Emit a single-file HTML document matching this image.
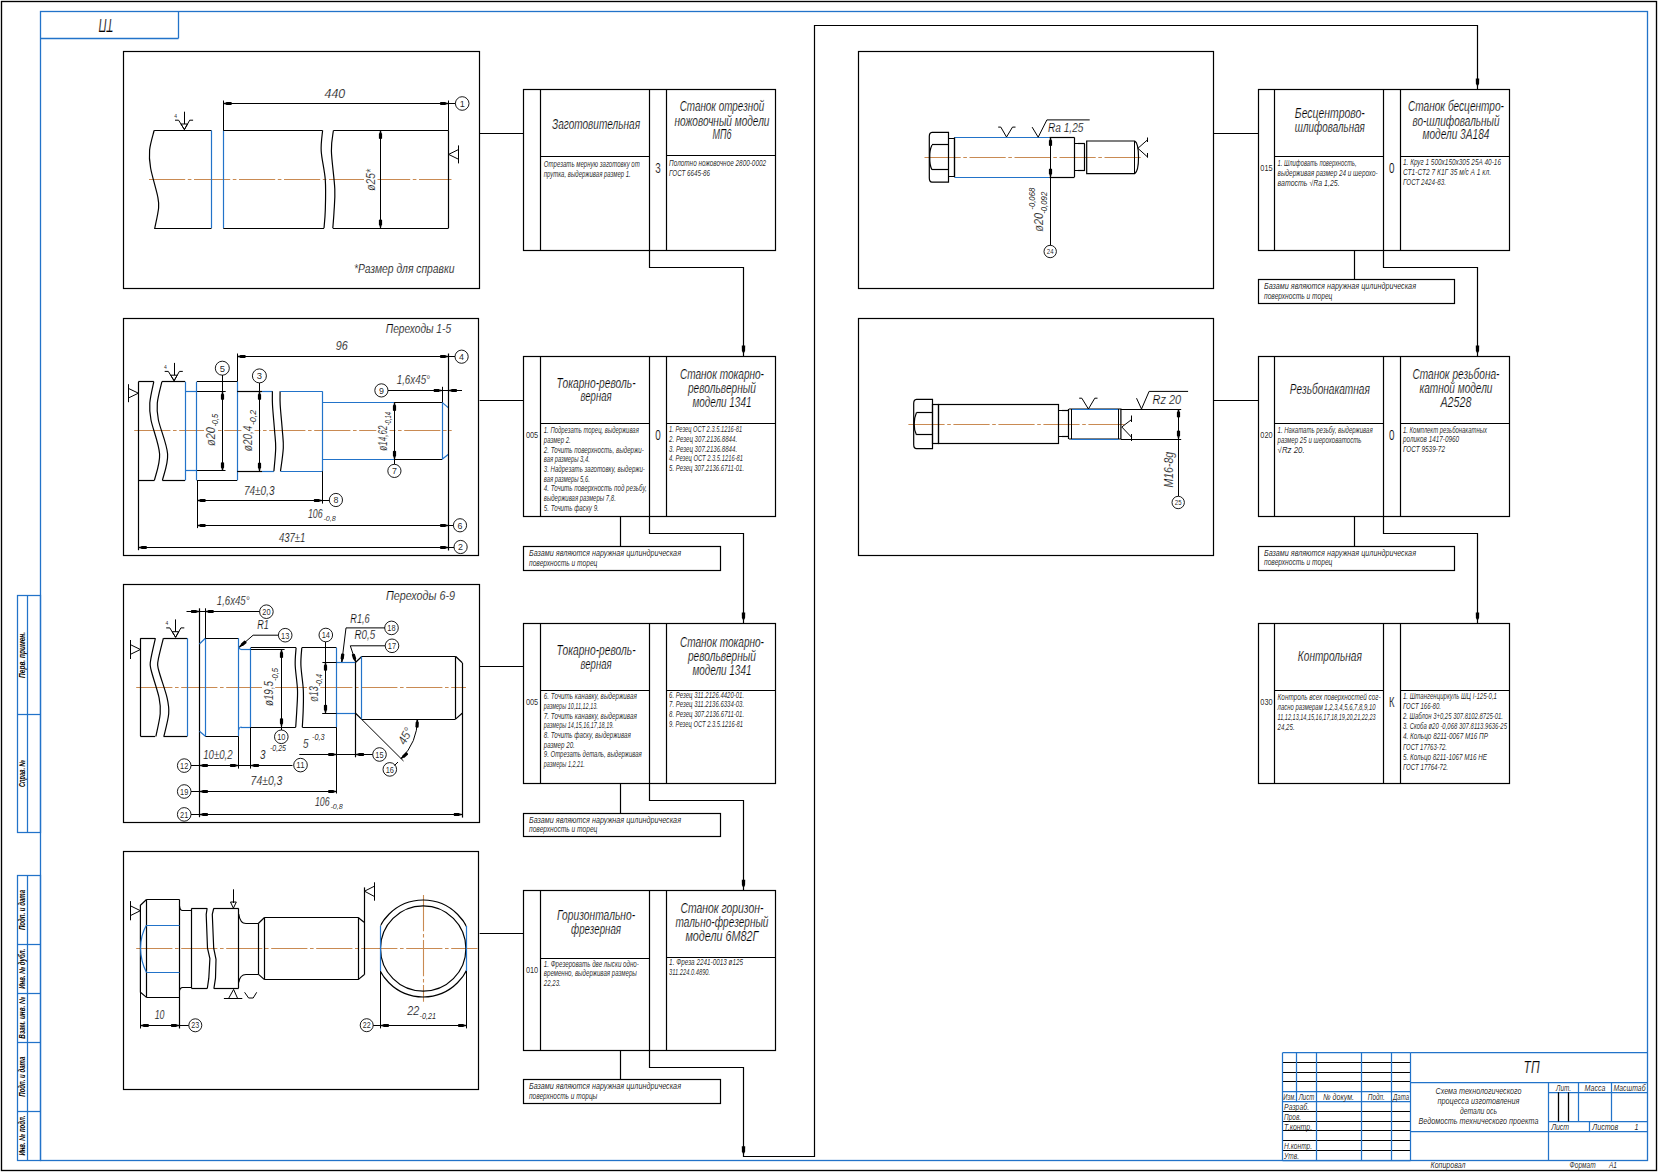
<!DOCTYPE html>
<html><head><meta charset="utf-8"><style>
html,body{margin:0;padding:0;background:#fff;width:1658px;height:1172px;overflow:hidden}
svg{display:block}
text{font-family:"Liberation Sans", sans-serif}
</style></head><body>
<svg width="1658" height="1172" viewBox="0 0 1658 1172">
<rect x="0" y="0" width="1658" height="1172" fill="#fff"/>
<rect x="1.5" y="1.5" width="1655" height="1169" fill="none" stroke="#000" stroke-width="1.35"/>
<rect x="40.5" y="11.5" width="1607" height="1149" fill="none" stroke="#2273c9" stroke-width="1.3"/>
<line x1="178.5" y1="11.5" x2="178.5" y2="38.4" stroke="#2273c9" stroke-width="1.3"/>
<line x1="40.4" y1="38.5" x2="178.5" y2="38.5" stroke="#2273c9" stroke-width="1.3"/>
<text x="106.2" y="19" font-size="18" font-style="italic" text-anchor="middle" textLength="14.5" lengthAdjust="spacingAndGlyphs" transform="rotate(180 106.2 19)" fill="#000" stroke="#fff" stroke-width="0.2">ТП</text>
<rect x="123.5" y="51.5" width="356" height="237" fill="none" stroke="#000" stroke-width="1.2"/>
<rect x="123.5" y="318.5" width="355" height="237" fill="none" stroke="#000" stroke-width="1.2"/>
<rect x="123.5" y="584.5" width="356" height="238" fill="none" stroke="#000" stroke-width="1.2"/>
<rect x="123.5" y="851.5" width="355" height="238" fill="none" stroke="#000" stroke-width="1.2"/>
<rect x="858.5" y="51.5" width="355" height="237" fill="none" stroke="#000" stroke-width="1.2"/>
<rect x="858.5" y="318.5" width="355" height="237" fill="none" stroke="#000" stroke-width="1.2"/>
<rect x="523.5" y="89.5" width="252" height="161" fill="none" stroke="#000" stroke-width="1.2"/>
<line x1="540.5" y1="89.1" x2="540.5" y2="250.3" stroke="#000" stroke-width="1.2"/>
<line x1="649.5" y1="89.1" x2="649.5" y2="250.3" stroke="#000" stroke-width="1.2"/>
<line x1="666.5" y1="89.1" x2="666.5" y2="250.3" stroke="#000" stroke-width="1.2"/>
<line x1="540.6" y1="156.5" x2="649.5" y2="156.5" stroke="#000" stroke-width="1.2"/>
<line x1="666.5" y1="155.5" x2="775.4" y2="155.5" stroke="#000" stroke-width="1.2"/>
<text x="532.05" y="171.1" font-size="9.8" font-style="normal" text-anchor="middle" fill="#000" fill-opacity="0.88"></text>
<text x="658" y="172.6" font-size="14.5" font-style="normal" text-anchor="middle" textLength="5.5" lengthAdjust="spacingAndGlyphs" fill="#000" stroke="#fff" stroke-width="0.2">3</text>
<text x="596.05" y="129.1" font-size="14" font-style="italic" text-anchor="middle" textLength="88" lengthAdjust="spacingAndGlyphs" fill="#000" stroke="#fff" stroke-width="0.2">Заготовительная</text>
<text x="721.95" y="111.4" font-size="14" font-style="italic" text-anchor="middle" textLength="84.5" lengthAdjust="spacingAndGlyphs" fill="#000" stroke="#fff" stroke-width="0.2">Станок отрезной</text>
<text x="721.95" y="125.6" font-size="14" font-style="italic" text-anchor="middle" textLength="95" lengthAdjust="spacingAndGlyphs" fill="#000" stroke="#fff" stroke-width="0.2">ножовочный модели</text>
<text x="721.95" y="139.3" font-size="14" font-style="italic" text-anchor="middle" textLength="19" lengthAdjust="spacingAndGlyphs" fill="#000" stroke="#fff" stroke-width="0.2">МП6</text>
<text x="543.8" y="167" font-size="8.4" font-style="italic" text-anchor="start" textLength="96" lengthAdjust="spacingAndGlyphs" fill="#000" fill-opacity="0.88">Отрезать мерную заготовку от</text>
<text x="543.8" y="176.7" font-size="8.4" font-style="italic" text-anchor="start" textLength="87" lengthAdjust="spacingAndGlyphs" fill="#000" fill-opacity="0.88">прутка, выдерживая размер 1.</text>
<text x="669.1" y="165.9" font-size="8.4" font-style="italic" text-anchor="start" textLength="97" lengthAdjust="spacingAndGlyphs" fill="#000" fill-opacity="0.88">Полотно ножовочное 2800-0002</text>
<text x="669.1" y="175.6" font-size="8.4" font-style="italic" text-anchor="start" textLength="41" lengthAdjust="spacingAndGlyphs" fill="#000" fill-opacity="0.88">ГОСТ 6645-86</text>
<rect x="523.5" y="356.5" width="252" height="160" fill="none" stroke="#000" stroke-width="1.2"/>
<line x1="540.5" y1="356.4" x2="540.5" y2="516.1" stroke="#000" stroke-width="1.2"/>
<line x1="649.5" y1="356.4" x2="649.5" y2="516.1" stroke="#000" stroke-width="1.2"/>
<line x1="666.5" y1="356.4" x2="666.5" y2="516.1" stroke="#000" stroke-width="1.2"/>
<line x1="540.6" y1="423.5" x2="649.5" y2="423.5" stroke="#000" stroke-width="1.2"/>
<line x1="666.5" y1="423.5" x2="775.4" y2="423.5" stroke="#000" stroke-width="1.2"/>
<text x="532.05" y="438.4" font-size="9.8" font-style="normal" text-anchor="middle" textLength="12.3" lengthAdjust="spacingAndGlyphs" fill="#000" fill-opacity="0.88">005</text>
<text x="658" y="439.9" font-size="14.5" font-style="normal" text-anchor="middle" textLength="5.5" lengthAdjust="spacingAndGlyphs" fill="#000" stroke="#fff" stroke-width="0.2">0</text>
<text x="596.05" y="387.5" font-size="14" font-style="italic" text-anchor="middle" textLength="79" lengthAdjust="spacingAndGlyphs" fill="#000" stroke="#fff" stroke-width="0.2">Токарно-револь-</text>
<text x="596.05" y="401.4" font-size="14" font-style="italic" text-anchor="middle" textLength="31" lengthAdjust="spacingAndGlyphs" fill="#000" stroke="#fff" stroke-width="0.2">верная</text>
<text x="721.95" y="378.9" font-size="14" font-style="italic" text-anchor="middle" textLength="84" lengthAdjust="spacingAndGlyphs" fill="#000" stroke="#fff" stroke-width="0.2">Станок токарно-</text>
<text x="721.95" y="392.8" font-size="14" font-style="italic" text-anchor="middle" textLength="68" lengthAdjust="spacingAndGlyphs" fill="#000" stroke="#fff" stroke-width="0.2">револьверный</text>
<text x="721.95" y="406.6" font-size="14" font-style="italic" text-anchor="middle" textLength="59" lengthAdjust="spacingAndGlyphs" fill="#000" stroke="#fff" stroke-width="0.2">модели 1341</text>
<text x="543.8" y="433.2" font-size="8.4" font-style="italic" text-anchor="start" textLength="95" lengthAdjust="spacingAndGlyphs" fill="#000" fill-opacity="0.88">1. Подрезать торец, выдерживая</text>
<text x="543.8" y="442.9" font-size="8.4" font-style="italic" text-anchor="start" textLength="27" lengthAdjust="spacingAndGlyphs" fill="#000" fill-opacity="0.88">размер 2.</text>
<text x="543.8" y="452.6" font-size="8.4" font-style="italic" text-anchor="start" textLength="100" lengthAdjust="spacingAndGlyphs" fill="#000" fill-opacity="0.88">2. Точить поверхность, выдержи-</text>
<text x="543.8" y="462.3" font-size="8.4" font-style="italic" text-anchor="start" textLength="46" lengthAdjust="spacingAndGlyphs" fill="#000" fill-opacity="0.88">вая размеры 3,4.</text>
<text x="543.8" y="472" font-size="8.4" font-style="italic" text-anchor="start" textLength="101" lengthAdjust="spacingAndGlyphs" fill="#000" fill-opacity="0.88">3. Надрезать заготовку, выдержи-</text>
<text x="543.8" y="481.7" font-size="8.4" font-style="italic" text-anchor="start" textLength="46" lengthAdjust="spacingAndGlyphs" fill="#000" fill-opacity="0.88">вая размеры 5,6.</text>
<text x="543.8" y="491.4" font-size="8.4" font-style="italic" text-anchor="start" textLength="103" lengthAdjust="spacingAndGlyphs" fill="#000" fill-opacity="0.88">4. Точить поверхность под резьбу,</text>
<text x="543.8" y="501.1" font-size="8.4" font-style="italic" text-anchor="start" textLength="72" lengthAdjust="spacingAndGlyphs" fill="#000" fill-opacity="0.88">выдерживая размеры 7,8.</text>
<text x="543.8" y="510.8" font-size="8.4" font-style="italic" text-anchor="start" textLength="55" lengthAdjust="spacingAndGlyphs" fill="#000" fill-opacity="0.88">5. Точить фаску 9.</text>
<text x="669.1" y="432.2" font-size="8.4" font-style="italic" text-anchor="start" textLength="73" lengthAdjust="spacingAndGlyphs" fill="#000" fill-opacity="0.88">1. Резец ОСТ 2.3.5.1216-81</text>
<text x="669.1" y="441.9" font-size="8.4" font-style="italic" text-anchor="start" textLength="68" lengthAdjust="spacingAndGlyphs" fill="#000" fill-opacity="0.88">2. Резец 307.2136.8844.</text>
<text x="669.1" y="451.6" font-size="8.4" font-style="italic" text-anchor="start" textLength="68" lengthAdjust="spacingAndGlyphs" fill="#000" fill-opacity="0.88">3. Резец 307.2136.8844.</text>
<text x="669.1" y="461.3" font-size="8.4" font-style="italic" text-anchor="start" textLength="74" lengthAdjust="spacingAndGlyphs" fill="#000" fill-opacity="0.88">4. Резец ОСТ 2.3.5.1216-81</text>
<text x="669.1" y="471" font-size="8.4" font-style="italic" text-anchor="start" textLength="75" lengthAdjust="spacingAndGlyphs" fill="#000" fill-opacity="0.88">5. Резец 307.2136.6711-01.</text>
<rect x="523.5" y="623.5" width="252" height="160" fill="none" stroke="#000" stroke-width="1.2"/>
<line x1="540.5" y1="623.4" x2="540.5" y2="783.1" stroke="#000" stroke-width="1.2"/>
<line x1="649.5" y1="623.4" x2="649.5" y2="783.1" stroke="#000" stroke-width="1.2"/>
<line x1="666.5" y1="623.4" x2="666.5" y2="783.1" stroke="#000" stroke-width="1.2"/>
<line x1="540.6" y1="690.5" x2="649.5" y2="690.5" stroke="#000" stroke-width="1.2"/>
<line x1="666.5" y1="690.5" x2="775.4" y2="690.5" stroke="#000" stroke-width="1.2"/>
<text x="532.05" y="705.4" font-size="9.8" font-style="normal" text-anchor="middle" textLength="12.3" lengthAdjust="spacingAndGlyphs" fill="#000" fill-opacity="0.88">005</text>
<text x="658" y="706.9" font-size="14.5" font-style="normal" text-anchor="middle" textLength="5.5" lengthAdjust="spacingAndGlyphs" fill="#000" stroke="#fff" stroke-width="0.2"></text>
<text x="596.05" y="655.4" font-size="14" font-style="italic" text-anchor="middle" textLength="79" lengthAdjust="spacingAndGlyphs" fill="#000" stroke="#fff" stroke-width="0.2">Токарно-револь-</text>
<text x="596.05" y="669.4" font-size="14" font-style="italic" text-anchor="middle" textLength="31" lengthAdjust="spacingAndGlyphs" fill="#000" stroke="#fff" stroke-width="0.2">верная</text>
<text x="721.95" y="646.9" font-size="14" font-style="italic" text-anchor="middle" textLength="84" lengthAdjust="spacingAndGlyphs" fill="#000" stroke="#fff" stroke-width="0.2">Станок токарно-</text>
<text x="721.95" y="660.8" font-size="14" font-style="italic" text-anchor="middle" textLength="68" lengthAdjust="spacingAndGlyphs" fill="#000" stroke="#fff" stroke-width="0.2">револьверный</text>
<text x="721.95" y="674.6" font-size="14" font-style="italic" text-anchor="middle" textLength="59" lengthAdjust="spacingAndGlyphs" fill="#000" stroke="#fff" stroke-width="0.2">модели 1341</text>
<text x="543.8" y="699.2" font-size="8.4" font-style="italic" text-anchor="start" textLength="93" lengthAdjust="spacingAndGlyphs" fill="#000" fill-opacity="0.88">6. Точить канавку, выдерживая</text>
<text x="543.8" y="708.9" font-size="8.4" font-style="italic" text-anchor="start" textLength="54" lengthAdjust="spacingAndGlyphs" fill="#000" fill-opacity="0.88">размеры 10,11,12,13.</text>
<text x="543.8" y="718.6" font-size="8.4" font-style="italic" text-anchor="start" textLength="93" lengthAdjust="spacingAndGlyphs" fill="#000" fill-opacity="0.88">7. Точить канавку, выдерживая</text>
<text x="543.8" y="728.3" font-size="8.4" font-style="italic" text-anchor="start" textLength="70" lengthAdjust="spacingAndGlyphs" fill="#000" fill-opacity="0.88">размеры 14,15,16,17,18,19.</text>
<text x="543.8" y="738" font-size="8.4" font-style="italic" text-anchor="start" textLength="87" lengthAdjust="spacingAndGlyphs" fill="#000" fill-opacity="0.88">8. Точить фаску, выдерживая</text>
<text x="543.8" y="747.7" font-size="8.4" font-style="italic" text-anchor="start" textLength="31" lengthAdjust="spacingAndGlyphs" fill="#000" fill-opacity="0.88">размер 20.</text>
<text x="543.8" y="757.4" font-size="8.4" font-style="italic" text-anchor="start" textLength="98" lengthAdjust="spacingAndGlyphs" fill="#000" fill-opacity="0.88">9. Отрезать деталь, выдерживая</text>
<text x="543.8" y="767.1" font-size="8.4" font-style="italic" text-anchor="start" textLength="41" lengthAdjust="spacingAndGlyphs" fill="#000" fill-opacity="0.88">размеры 1,2,21.</text>
<text x="669.1" y="697.6" font-size="8.4" font-style="italic" text-anchor="start" textLength="75" lengthAdjust="spacingAndGlyphs" fill="#000" fill-opacity="0.88">6. Резец 311.2126.4420-01.</text>
<text x="669.1" y="707.3" font-size="8.4" font-style="italic" text-anchor="start" textLength="75" lengthAdjust="spacingAndGlyphs" fill="#000" fill-opacity="0.88">7. Резец 311.2136.6334-03.</text>
<text x="669.1" y="717" font-size="8.4" font-style="italic" text-anchor="start" textLength="75" lengthAdjust="spacingAndGlyphs" fill="#000" fill-opacity="0.88">8. Резец 307.2136.6711-01.</text>
<text x="669.1" y="726.7" font-size="8.4" font-style="italic" text-anchor="start" textLength="74" lengthAdjust="spacingAndGlyphs" fill="#000" fill-opacity="0.88">9. Резец ОСТ 2.3.5.1216-81</text>
<rect x="523.5" y="890.5" width="252" height="160" fill="none" stroke="#000" stroke-width="1.2"/>
<line x1="540.5" y1="890.5" x2="540.5" y2="1050.2" stroke="#000" stroke-width="1.2"/>
<line x1="649.5" y1="890.5" x2="649.5" y2="1050.2" stroke="#000" stroke-width="1.2"/>
<line x1="666.5" y1="890.5" x2="666.5" y2="1050.2" stroke="#000" stroke-width="1.2"/>
<line x1="540.6" y1="958.5" x2="649.5" y2="958.5" stroke="#000" stroke-width="1.2"/>
<line x1="666.5" y1="957.5" x2="775.4" y2="957.5" stroke="#000" stroke-width="1.2"/>
<text x="532.05" y="972.5" font-size="9.8" font-style="normal" text-anchor="middle" textLength="12.3" lengthAdjust="spacingAndGlyphs" fill="#000" fill-opacity="0.88">010</text>
<text x="658" y="974" font-size="14.5" font-style="normal" text-anchor="middle" textLength="5.5" lengthAdjust="spacingAndGlyphs" fill="#000" stroke="#fff" stroke-width="0.2"></text>
<text x="596.05" y="919.5" font-size="14" font-style="italic" text-anchor="middle" textLength="78" lengthAdjust="spacingAndGlyphs" fill="#000" stroke="#fff" stroke-width="0.2">Горизонтально-</text>
<text x="596.05" y="933.8" font-size="14" font-style="italic" text-anchor="middle" textLength="50" lengthAdjust="spacingAndGlyphs" fill="#000" stroke="#fff" stroke-width="0.2">фрезерная</text>
<text x="721.95" y="913.3" font-size="14" font-style="italic" text-anchor="middle" textLength="83" lengthAdjust="spacingAndGlyphs" fill="#000" stroke="#fff" stroke-width="0.2">Станок горизон-</text>
<text x="721.95" y="926.9" font-size="14" font-style="italic" text-anchor="middle" textLength="93" lengthAdjust="spacingAndGlyphs" fill="#000" stroke="#fff" stroke-width="0.2">тально-фрезерный</text>
<text x="721.95" y="940.5" font-size="14" font-style="italic" text-anchor="middle" textLength="73" lengthAdjust="spacingAndGlyphs" fill="#000" stroke="#fff" stroke-width="0.2">модели 6М82Г</text>
<text x="543.8" y="966.5" font-size="8.4" font-style="italic" text-anchor="start" textLength="95" lengthAdjust="spacingAndGlyphs" fill="#000" fill-opacity="0.88">1. Фрезеровать две лыски одно-</text>
<text x="543.8" y="976.4" font-size="8.4" font-style="italic" text-anchor="start" textLength="93" lengthAdjust="spacingAndGlyphs" fill="#000" fill-opacity="0.88">временно, выдерживая размеры</text>
<text x="543.8" y="986.3" font-size="8.4" font-style="italic" text-anchor="start" textLength="17" lengthAdjust="spacingAndGlyphs" fill="#000" fill-opacity="0.88">22,23.</text>
<text x="669.1" y="965.2" font-size="8.4" font-style="italic" text-anchor="start" textLength="74" lengthAdjust="spacingAndGlyphs" fill="#000" fill-opacity="0.88">1. Фреза 2241-0013 ø125</text>
<text x="669.1" y="975.1" font-size="8.4" font-style="italic" text-anchor="start" textLength="41" lengthAdjust="spacingAndGlyphs" fill="#000" fill-opacity="0.88">311.224.0.4890.</text>
<rect x="1258.5" y="89.5" width="251" height="161" fill="none" stroke="#000" stroke-width="1.2"/>
<line x1="1274.5" y1="89.2" x2="1274.5" y2="250.2" stroke="#000" stroke-width="1.2"/>
<line x1="1383.5" y1="89.2" x2="1383.5" y2="250.2" stroke="#000" stroke-width="1.2"/>
<line x1="1400.5" y1="89.2" x2="1400.5" y2="250.2" stroke="#000" stroke-width="1.2"/>
<line x1="1274.4" y1="156.5" x2="1383.3" y2="156.5" stroke="#000" stroke-width="1.2"/>
<line x1="1400.4" y1="156.5" x2="1509.5" y2="156.5" stroke="#000" stroke-width="1.2"/>
<text x="1266.45" y="171.2" font-size="9.8" font-style="normal" text-anchor="middle" textLength="12.3" lengthAdjust="spacingAndGlyphs" fill="#000" fill-opacity="0.88">015</text>
<text x="1391.85" y="172.7" font-size="14.5" font-style="normal" text-anchor="middle" textLength="5.5" lengthAdjust="spacingAndGlyphs" fill="#000" stroke="#fff" stroke-width="0.2">0</text>
<text x="1329.85" y="118.3" font-size="14" font-style="italic" text-anchor="middle" textLength="70" lengthAdjust="spacingAndGlyphs" fill="#000" stroke="#fff" stroke-width="0.2">Бесцентрово-</text>
<text x="1329.85" y="132" font-size="14" font-style="italic" text-anchor="middle" textLength="70" lengthAdjust="spacingAndGlyphs" fill="#000" stroke="#fff" stroke-width="0.2">шлифовальная</text>
<text x="1455.95" y="111.4" font-size="14" font-style="italic" text-anchor="middle" textLength="96" lengthAdjust="spacingAndGlyphs" fill="#000" stroke="#fff" stroke-width="0.2">Станок бесцентро-</text>
<text x="1455.95" y="125.5" font-size="14" font-style="italic" text-anchor="middle" textLength="87" lengthAdjust="spacingAndGlyphs" fill="#000" stroke="#fff" stroke-width="0.2">во-шлифовальный</text>
<text x="1455.95" y="138.9" font-size="14" font-style="italic" text-anchor="middle" textLength="67" lengthAdjust="spacingAndGlyphs" fill="#000" stroke="#fff" stroke-width="0.2">модели 3А184</text>
<text x="1277.6" y="166.4" font-size="8.4" font-style="italic" text-anchor="start" textLength="79" lengthAdjust="spacingAndGlyphs" fill="#000" fill-opacity="0.88">1. Шлифовать поверхность,</text>
<text x="1277.6" y="176.2" font-size="8.4" font-style="italic" text-anchor="start" textLength="100" lengthAdjust="spacingAndGlyphs" fill="#000" fill-opacity="0.88">выдерживая размер 24 и шерохо-</text>
<text x="1277.6" y="186" font-size="8.4" font-style="italic" text-anchor="start" textLength="62" lengthAdjust="spacingAndGlyphs" fill="#000" fill-opacity="0.88">ватость √Ra 1,25.</text>
<text x="1403" y="165.4" font-size="8.4" font-style="italic" text-anchor="start" textLength="98" lengthAdjust="spacingAndGlyphs" fill="#000" fill-opacity="0.88">1. Круг 1 500х150х305 25А 40-16</text>
<text x="1403" y="175.2" font-size="8.4" font-style="italic" text-anchor="start" textLength="88" lengthAdjust="spacingAndGlyphs" fill="#000" fill-opacity="0.88">СТ1-СТ2 7 К1Г 35 м/с А 1 кл.</text>
<text x="1403" y="185" font-size="8.4" font-style="italic" text-anchor="start" textLength="43" lengthAdjust="spacingAndGlyphs" fill="#000" fill-opacity="0.88">ГОСТ 2424-83.</text>
<rect x="1258.5" y="356.5" width="251" height="160" fill="none" stroke="#000" stroke-width="1.2"/>
<line x1="1274.5" y1="356.4" x2="1274.5" y2="516.1" stroke="#000" stroke-width="1.2"/>
<line x1="1383.5" y1="356.4" x2="1383.5" y2="516.1" stroke="#000" stroke-width="1.2"/>
<line x1="1400.5" y1="356.4" x2="1400.5" y2="516.1" stroke="#000" stroke-width="1.2"/>
<line x1="1274.4" y1="423.5" x2="1383.3" y2="423.5" stroke="#000" stroke-width="1.2"/>
<line x1="1400.4" y1="423.5" x2="1509.5" y2="423.5" stroke="#000" stroke-width="1.2"/>
<text x="1266.45" y="438.4" font-size="9.8" font-style="normal" text-anchor="middle" textLength="12.3" lengthAdjust="spacingAndGlyphs" fill="#000" fill-opacity="0.88">020</text>
<text x="1391.85" y="439.9" font-size="14.5" font-style="normal" text-anchor="middle" textLength="5.5" lengthAdjust="spacingAndGlyphs" fill="#000" stroke="#fff" stroke-width="0.2">0</text>
<text x="1329.85" y="393.7" font-size="14" font-style="italic" text-anchor="middle" textLength="80" lengthAdjust="spacingAndGlyphs" fill="#000" stroke="#fff" stroke-width="0.2">Резьбонакатная</text>
<text x="1455.95" y="379.3" font-size="14" font-style="italic" text-anchor="middle" textLength="87" lengthAdjust="spacingAndGlyphs" fill="#000" stroke="#fff" stroke-width="0.2">Станок резьбона-</text>
<text x="1455.95" y="393.1" font-size="14" font-style="italic" text-anchor="middle" textLength="73" lengthAdjust="spacingAndGlyphs" fill="#000" stroke="#fff" stroke-width="0.2">катной модели</text>
<text x="1455.95" y="406.8" font-size="14" font-style="italic" text-anchor="middle" textLength="31" lengthAdjust="spacingAndGlyphs" fill="#000" stroke="#fff" stroke-width="0.2">А2528</text>
<text x="1277.6" y="433.3" font-size="8.4" font-style="italic" text-anchor="start" textLength="95" lengthAdjust="spacingAndGlyphs" fill="#000" fill-opacity="0.88">1. Накатать резьбу, выдерживая</text>
<text x="1277.6" y="442.9" font-size="8.4" font-style="italic" text-anchor="start" textLength="84" lengthAdjust="spacingAndGlyphs" fill="#000" fill-opacity="0.88">размер 25 и шероховатость</text>
<text x="1277.6" y="452.5" font-size="8.4" font-style="italic" text-anchor="start" textLength="27" lengthAdjust="spacingAndGlyphs" fill="#000" fill-opacity="0.88">√Rz 20.</text>
<text x="1403" y="432.7" font-size="8.4" font-style="italic" text-anchor="start" textLength="84" lengthAdjust="spacingAndGlyphs" fill="#000" fill-opacity="0.88">1. Комплект резьбонакатных</text>
<text x="1403" y="442.3" font-size="8.4" font-style="italic" text-anchor="start" textLength="56" lengthAdjust="spacingAndGlyphs" fill="#000" fill-opacity="0.88">роликов 1417-0960</text>
<text x="1403" y="451.9" font-size="8.4" font-style="italic" text-anchor="start" textLength="42" lengthAdjust="spacingAndGlyphs" fill="#000" fill-opacity="0.88">ГОСТ 9539-72</text>
<rect x="1258.5" y="623.5" width="251" height="160" fill="none" stroke="#000" stroke-width="1.2"/>
<line x1="1274.5" y1="623.4" x2="1274.5" y2="783.1" stroke="#000" stroke-width="1.2"/>
<line x1="1383.5" y1="623.4" x2="1383.5" y2="783.1" stroke="#000" stroke-width="1.2"/>
<line x1="1400.5" y1="623.4" x2="1400.5" y2="783.1" stroke="#000" stroke-width="1.2"/>
<line x1="1274.4" y1="690.5" x2="1383.3" y2="690.5" stroke="#000" stroke-width="1.2"/>
<line x1="1400.4" y1="690.5" x2="1509.5" y2="690.5" stroke="#000" stroke-width="1.2"/>
<text x="1266.45" y="705.4" font-size="9.8" font-style="normal" text-anchor="middle" textLength="12.3" lengthAdjust="spacingAndGlyphs" fill="#000" fill-opacity="0.88">030</text>
<text x="1391.85" y="706.9" font-size="14.5" font-style="normal" text-anchor="middle" textLength="5.5" lengthAdjust="spacingAndGlyphs" fill="#000" stroke="#fff" stroke-width="0.2">К</text>
<text x="1329.85" y="660.6" font-size="14" font-style="italic" text-anchor="middle" textLength="64" lengthAdjust="spacingAndGlyphs" fill="#000" stroke="#fff" stroke-width="0.2">Контрольная</text>
<text x="1277.6" y="699.8" font-size="8.4" font-style="italic" text-anchor="start" textLength="103" lengthAdjust="spacingAndGlyphs" fill="#000" fill-opacity="0.88">Контроль всех поверхностей сог-</text>
<text x="1277.6" y="710" font-size="8.4" font-style="italic" text-anchor="start" textLength="98" lengthAdjust="spacingAndGlyphs" fill="#000" fill-opacity="0.88">ласно размерам 1,2,3,4,5,6,7,8,9,10</text>
<text x="1277.6" y="720.2" font-size="8.4" font-style="italic" text-anchor="start" textLength="98" lengthAdjust="spacingAndGlyphs" fill="#000" fill-opacity="0.88">11,12,13,14,15,16,17,18,19,20,21,22,23</text>
<text x="1277.6" y="730.4" font-size="8.4" font-style="italic" text-anchor="start" textLength="17" lengthAdjust="spacingAndGlyphs" fill="#000" fill-opacity="0.88">24,25.</text>
<text x="1403" y="698.6" font-size="8.4" font-style="italic" text-anchor="start" textLength="94" lengthAdjust="spacingAndGlyphs" fill="#000" fill-opacity="0.88">1. Штангенциркуль ШЦ I-125-0,1</text>
<text x="1403" y="708.8" font-size="8.4" font-style="italic" text-anchor="start" textLength="38" lengthAdjust="spacingAndGlyphs" fill="#000" fill-opacity="0.88">ГОСТ 166-80.</text>
<text x="1403" y="719" font-size="8.4" font-style="italic" text-anchor="start" textLength="100" lengthAdjust="spacingAndGlyphs" fill="#000" fill-opacity="0.88">2. Шаблон 3+0,25 307.8102.8725-01.</text>
<text x="1403" y="729.2" font-size="8.4" font-style="italic" text-anchor="start" textLength="104" lengthAdjust="spacingAndGlyphs" fill="#000" fill-opacity="0.88">3. Скоба ø20 -0,068 307.8113.9636-25</text>
<text x="1403" y="739.4" font-size="8.4" font-style="italic" text-anchor="start" textLength="85" lengthAdjust="spacingAndGlyphs" fill="#000" fill-opacity="0.88">4. Кольцо 8211-0067 М16 ПР</text>
<text x="1403" y="749.6" font-size="8.4" font-style="italic" text-anchor="start" textLength="44" lengthAdjust="spacingAndGlyphs" fill="#000" fill-opacity="0.88">ГОСТ 17763-72.</text>
<text x="1403" y="759.8" font-size="8.4" font-style="italic" text-anchor="start" textLength="84" lengthAdjust="spacingAndGlyphs" fill="#000" fill-opacity="0.88">5. Кольцо 8211-1067 М16 НЕ</text>
<text x="1403" y="770" font-size="8.4" font-style="italic" text-anchor="start" textLength="45" lengthAdjust="spacingAndGlyphs" fill="#000" fill-opacity="0.88">ГОСТ 17764-72.</text>
<rect x="523.5" y="546.5" width="197" height="24" fill="none" stroke="#000" stroke-width="1.2"/>
<text x="529" y="556.1" font-size="8.7" font-style="italic" text-anchor="start" textLength="152" lengthAdjust="spacingAndGlyphs" fill="#000" fill-opacity="0.88">Базами являются наружная цилиндрическая</text>
<text x="529" y="565.7" font-size="8.7" font-style="italic" text-anchor="start" textLength="68.4" lengthAdjust="spacingAndGlyphs" fill="#000" fill-opacity="0.88">поверхность и торец</text>
<rect x="523.5" y="813.5" width="197" height="23" fill="none" stroke="#000" stroke-width="1.2"/>
<text x="529" y="822.8" font-size="8.7" font-style="italic" text-anchor="start" textLength="152" lengthAdjust="spacingAndGlyphs" fill="#000" fill-opacity="0.88">Базами являются наружная цилиндрическая</text>
<text x="529" y="832.4" font-size="8.7" font-style="italic" text-anchor="start" textLength="68.4" lengthAdjust="spacingAndGlyphs" fill="#000" fill-opacity="0.88">поверхность и торец</text>
<rect x="523.5" y="1079.5" width="197" height="24" fill="none" stroke="#000" stroke-width="1.2"/>
<text x="529" y="1089.1" font-size="8.7" font-style="italic" text-anchor="start" textLength="152" lengthAdjust="spacingAndGlyphs" fill="#000" fill-opacity="0.88">Базами являются наружная цилиндрическая</text>
<text x="529" y="1098.7" font-size="8.7" font-style="italic" text-anchor="start" textLength="68.4" lengthAdjust="spacingAndGlyphs" fill="#000" fill-opacity="0.88">поверхность и торцы</text>
<rect x="1258.5" y="279.5" width="196" height="24" fill="none" stroke="#000" stroke-width="1.2"/>
<text x="1264" y="288.9" font-size="8.7" font-style="italic" text-anchor="start" textLength="152" lengthAdjust="spacingAndGlyphs" fill="#000" fill-opacity="0.88">Базами являются наружная цилиндрическая</text>
<text x="1264" y="298.5" font-size="8.7" font-style="italic" text-anchor="start" textLength="68.4" lengthAdjust="spacingAndGlyphs" fill="#000" fill-opacity="0.88">поверхность и торец</text>
<rect x="1258.5" y="546.5" width="196" height="24" fill="none" stroke="#000" stroke-width="1.2"/>
<text x="1264" y="555.5" font-size="8.7" font-style="italic" text-anchor="start" textLength="152" lengthAdjust="spacingAndGlyphs" fill="#000" fill-opacity="0.88">Базами являются наружная цилиндрическая</text>
<text x="1264" y="565.1" font-size="8.7" font-style="italic" text-anchor="start" textLength="68.4" lengthAdjust="spacingAndGlyphs" fill="#000" fill-opacity="0.88">поверхность и торец</text>
<line x1="479.6" y1="133.5" x2="523.5" y2="133.5" stroke="#000" stroke-width="1.2"/>
<line x1="479.6" y1="400.5" x2="523.5" y2="400.5" stroke="#000" stroke-width="1.2"/>
<line x1="479.6" y1="666.5" x2="523.5" y2="666.5" stroke="#000" stroke-width="1.2"/>
<line x1="479.6" y1="933.5" x2="523.5" y2="933.5" stroke="#000" stroke-width="1.2"/>
<line x1="1213.7" y1="133.5" x2="1258.5" y2="133.5" stroke="#000" stroke-width="1.2"/>
<line x1="1213.7" y1="400.5" x2="1258.5" y2="400.5" stroke="#000" stroke-width="1.2"/>
<line x1="620.5" y1="516.2" x2="620.5" y2="546.8" stroke="#000" stroke-width="1.2"/>
<line x1="620.5" y1="783.2" x2="620.5" y2="813.5" stroke="#000" stroke-width="1.2"/>
<line x1="620.5" y1="1050.3" x2="620.5" y2="1079.8" stroke="#000" stroke-width="1.2"/>
<line x1="1354.5" y1="250.2" x2="1354.5" y2="279.6" stroke="#000" stroke-width="1.2"/>
<line x1="1354.5" y1="516.2" x2="1354.5" y2="546.2" stroke="#000" stroke-width="1.2"/>
<polyline points="649.5,250.5 649.5,267.5 743.5,267.5 743.5,356.5" fill="none" stroke="#000" stroke-width="1.2"/>
<path d="M741.8,345.6 L745.2,345.6 L745.1,350.9 L744.1,352.8 L742.9,352.8 L741.9,350.9 Z" fill="#000"/>
<polyline points="649.5,516.5 649.5,533.5 743.5,533.5 743.5,623.5" fill="none" stroke="#000" stroke-width="1.2"/>
<path d="M741.8,612.6 L745.2,612.6 L745.1,617.9 L744.1,619.8 L742.9,619.8 L741.9,617.9 Z" fill="#000"/>
<polyline points="649.5,783.5 649.5,800.5 743.5,800.5 743.5,890.5" fill="none" stroke="#000" stroke-width="1.2"/>
<path d="M741.8,879.7 L745.2,879.7 L745.1,885 L744.1,886.9 L742.9,886.9 L741.9,885 Z" fill="#000"/>
<polyline points="649.5,1050.5 649.5,1067.5 743.5,1067.5 743.5,1156.5 814.5,1156.5 814.5,25.5 1477.5,25.5 1477.5,89.5" fill="none" stroke="#000" stroke-width="1.2"/>
<path d="M741.8,1146.2 L745.2,1146.2 L745.1,1151.5 L744.1,1153.4 L742.9,1153.4 L741.9,1151.5 Z" fill="#000"/>
<path d="M1475.8,78.4 L1479.2,78.4 L1479.1,83.7 L1478.1,85.6 L1476.9,85.6 L1475.9,83.7 Z" fill="#000"/>
<polyline points="1383.5,250.5 1383.5,267.5 1477.5,267.5 1477.5,356.5" fill="none" stroke="#000" stroke-width="1.2"/>
<path d="M1475.8,345.6 L1479.2,345.6 L1479.1,350.9 L1478.1,352.8 L1476.9,352.8 L1475.9,350.9 Z" fill="#000"/>
<polyline points="1383.5,516.5 1383.5,533.5 1477.5,533.5 1477.5,623.5" fill="none" stroke="#000" stroke-width="1.2"/>
<path d="M1475.8,612.6 L1479.2,612.6 L1479.1,617.9 L1478.1,619.8 L1476.9,619.8 L1475.9,617.9 Z" fill="#000"/>
<line x1="149" y1="179.5" x2="451.5" y2="179.5" stroke="#c98a52" stroke-width="1.05" stroke-dasharray="36.2 2.6 3.6 2.6"/>
<path d="M154.1,130.5 C153.35,133.75 150.18,143.75 149.6,150 C149.02,156.25 149.27,160.33 150.6,168 C151.93,175.67 156.27,189.33 157.6,196 C158.93,202.67 159.07,202.65 158.6,208 C158.13,213.35 155.43,224.75 154.8,228.1" fill="none" stroke="#000" stroke-width="1.2"/>
<line x1="154.1" y1="130.5" x2="211.5" y2="130.5" stroke="#000" stroke-width="1.2"/>
<line x1="154.1" y1="228.5" x2="211.5" y2="228.5" stroke="#000" stroke-width="1.2"/>
<line x1="211.5" y1="130.5" x2="211.5" y2="228.1" stroke="#2273c9" stroke-width="1.2"/>
<line x1="223.5" y1="130.5" x2="223.5" y2="228.1" stroke="#2273c9" stroke-width="1.2"/>
<line x1="223.5" y1="100.5" x2="223.5" y2="130.5" stroke="#000" stroke-width="1.0"/>
<line x1="223.3" y1="130.5" x2="322.6" y2="130.5" stroke="#000" stroke-width="1.2"/>
<line x1="223.3" y1="228.5" x2="324" y2="228.5" stroke="#000" stroke-width="1.2"/>
<path d="M322.6,130.5 C322.37,133.92 320.75,142.75 321.2,151 C321.65,159.25 324.62,170.17 325.3,180 C325.98,189.83 325.52,201.98 325.3,210 C325.08,218.02 324.22,225.08 324,228.1" fill="none" stroke="#000" stroke-width="1.2"/>
<path d="M333.4,130.5 C333.07,133.92 331.17,141.25 331.4,151 C331.63,160.75 334.37,178.83 334.8,189 C335.23,199.17 334.33,205.48 334,212 C333.67,218.52 333,225.42 332.8,228.1" fill="none" stroke="#000" stroke-width="1.2"/>
<line x1="333.4" y1="130.5" x2="448.5" y2="130.5" stroke="#000" stroke-width="1.2"/>
<line x1="332.8" y1="228.5" x2="448.5" y2="228.5" stroke="#000" stroke-width="1.2"/>
<line x1="448.5" y1="130.5" x2="448.5" y2="228.1" stroke="#000" stroke-width="1.2"/>
<line x1="448.5" y1="100.5" x2="448.5" y2="130.5" stroke="#000" stroke-width="1.0"/>
<line x1="223.3" y1="103.5" x2="455.4" y2="103.5" stroke="#000" stroke-width="1.0"/>
<polygon points="223.3,103 225.9,102.5 226.5,101.9 231.3,101.9 231.9,102.9 231.9,104.1 231.3,105.1 226.5,105.1 225.9,104.5 223.3,104" fill="#000" stroke="none"/>
<polygon points="448.5,104 445.9,104.5 445.3,105.1 440.5,105.1 439.9,104.1 439.9,102.9 440.5,101.9 445.3,101.9 445.9,102.5 448.5,103" fill="#000" stroke="none"/>
<circle cx="462.2" cy="103.5" r="6.8" fill="none" stroke="#000" stroke-width="0.9"/>
<text x="462.2" y="106.8" font-size="9.18" font-style="normal" text-anchor="middle" fill="#000" fill-opacity="0.88">1</text>
<text x="334.8" y="97.9" font-size="12.8" font-style="italic" text-anchor="middle" textLength="20.5" lengthAdjust="spacingAndGlyphs" fill="#000" stroke="#fff" stroke-width="0.2">440</text>
<line x1="380.5" y1="130.5" x2="380.5" y2="228.1" stroke="#000" stroke-width="1.0"/>
<polygon points="381,130.5 381.5,133.1 382.1,133.7 382.1,138.5 381.1,139.1 379.9,139.1 378.9,138.5 378.9,133.7 379.5,133.1 380,130.5" fill="#000" stroke="none"/>
<polygon points="380,228.1 379.5,225.5 378.9,224.9 378.9,220.1 379.9,219.5 381.1,219.5 382.1,220.1 382.1,224.9 381.5,225.5 381,228.1" fill="#000" stroke="none"/>
<g transform="translate(375.1 190.7) rotate(-90)">
<rect x="-1.5" y="-11.1" width="24.8" height="13.5" fill="#fff"/>
<text x="0" y="0" font-size="12.92" font-style="italic" text-anchor="start" textLength="21.8" lengthAdjust="spacingAndGlyphs" fill="#000" stroke="#fff" stroke-width="0.2">ø25*</text>
</g>
<line x1="184.5" y1="111.7" x2="184.5" y2="124" stroke="#000" stroke-width="1.0"/>
<polyline points="175,120.2 178.6,120.2 184.4,129.6 189.7,120.2 193.1,120.2" fill="none" stroke="#000" stroke-width="1.0"/>
<polygon points="181,124 187.5,124 184.4,129.6" fill="none" stroke="#000" stroke-width="1.0"/>
<text x="175.6" y="117.7" font-size="5" font-style="normal" text-anchor="middle" fill="#000" fill-opacity="0.88">4</text>
<line x1="458.5" y1="145.4" x2="458.5" y2="163.4" stroke="#000" stroke-width="1.0"/>
<polyline points="458.4,149.6 448.6,154.4 458.4,159.2" fill="none" stroke="#000" stroke-width="1.0"/>
<text x="353.9" y="272.8" font-size="13" font-style="italic" text-anchor="start" textLength="100.7" lengthAdjust="spacingAndGlyphs" fill="#000" stroke="#fff" stroke-width="0.2">*Размер для справки</text>
<line x1="134.2" y1="430.5" x2="451.7" y2="430.5" stroke="#c98a52" stroke-width="1.05" stroke-dasharray="36.2 2.6 3.6 2.6"/>
<line x1="138.5" y1="381.7" x2="138.5" y2="550.2" stroke="#000" stroke-width="1.2"/>
<line x1="128.5" y1="384.2" x2="128.5" y2="402.2" stroke="#000" stroke-width="1.0"/>
<polyline points="128.4,388.4 138.4,393.2 128.4,398" fill="none" stroke="#000" stroke-width="1.0"/>
<line x1="174.5" y1="362.9" x2="174.5" y2="375.2" stroke="#000" stroke-width="1.0"/>
<polyline points="164.7,371.4 168.3,371.4 174.1,380.8 179.4,371.4 182.8,371.4" fill="none" stroke="#000" stroke-width="1.0"/>
<polygon points="170.7,375.2 177.2,375.2 174.1,380.8" fill="none" stroke="#000" stroke-width="1.0"/>
<text x="165.3" y="368.9" font-size="5" font-style="normal" text-anchor="middle" fill="#000" fill-opacity="0.88">4</text>
<line x1="138.4" y1="381.5" x2="153.8" y2="381.5" stroke="#000" stroke-width="1.2"/>
<line x1="138.4" y1="480.5" x2="154.4" y2="480.5" stroke="#000" stroke-width="1.2"/>
<path d="M153.8,381.7 C153.13,385.25 150.27,396.62 149.8,403 C149.33,409.38 149.37,411.5 151,420 C152.63,428.5 159.03,443.95 159.6,454 C160.17,464.05 155.27,475.92 154.4,480.3" fill="none" stroke="#000" stroke-width="1.2"/>
<path d="M161.9,381.7 C161.13,385.25 157.88,396.62 157.3,403 C156.72,409.38 156.68,411.5 158.4,420 C160.12,428.5 166.93,443.95 167.6,454 C168.27,464.05 163.27,475.92 162.4,480.3" fill="none" stroke="#000" stroke-width="1.2"/>
<line x1="161.9" y1="381.5" x2="185.1" y2="381.5" stroke="#000" stroke-width="1.2"/>
<line x1="162.4" y1="480.5" x2="185.1" y2="480.5" stroke="#000" stroke-width="1.2"/>
<line x1="185.5" y1="381.7" x2="185.5" y2="480.3" stroke="#2273c9" stroke-width="1.2"/>
<line x1="185.1" y1="391.5" x2="196.9" y2="391.5" stroke="#2273c9" stroke-width="1.2"/>
<line x1="185.1" y1="470.5" x2="196.9" y2="470.5" stroke="#2273c9" stroke-width="1.2"/>
<line x1="196.9" y1="391.5" x2="225.7" y2="391.5" stroke="#000" stroke-width="1.0"/>
<line x1="196.9" y1="470.5" x2="225.5" y2="470.5" stroke="#000" stroke-width="1.0"/>
<line x1="196.5" y1="381.7" x2="196.5" y2="480.3" stroke="#2273c9" stroke-width="1.2"/>
<line x1="197.5" y1="480.3" x2="197.5" y2="528.1" stroke="#000" stroke-width="1.0"/>
<line x1="196.9" y1="381.5" x2="237.2" y2="381.5" stroke="#000" stroke-width="1.2"/>
<line x1="196.9" y1="480.5" x2="237.2" y2="480.5" stroke="#000" stroke-width="1.2"/>
<line x1="237.5" y1="353.5" x2="237.5" y2="381.7" stroke="#000" stroke-width="1.0"/>
<line x1="237.5" y1="381.7" x2="237.5" y2="480.3" stroke="#2273c9" stroke-width="1.2"/>
<line x1="237.2" y1="391.5" x2="262" y2="391.5" stroke="#000" stroke-width="1.2"/>
<line x1="262" y1="391.5" x2="272.4" y2="391.5" stroke="#2273c9" stroke-width="1.2"/>
<line x1="237.2" y1="471.5" x2="262" y2="471.5" stroke="#000" stroke-width="1.2"/>
<line x1="262" y1="471.5" x2="273.9" y2="471.5" stroke="#2273c9" stroke-width="1.2"/>
<path d="M272.4,391.3 C272.42,393.58 272.15,398.55 272.5,405 C272.85,411.45 273.97,422.83 274.5,430 C275.03,437.17 275.8,441.13 275.7,448 C275.6,454.87 274.2,467.33 273.9,471.2" fill="none" stroke="#000" stroke-width="1.2"/>
<path d="M280.1,391.3 C280.12,393.58 279.83,398.55 280.2,405 C280.57,411.45 281.78,422.83 282.3,430 C282.82,437.17 283.6,441.13 283.3,448 C283,454.87 280.97,467.33 280.5,471.2" fill="none" stroke="#000" stroke-width="1.2"/>
<line x1="280.1" y1="391.5" x2="322.5" y2="391.5" stroke="#2273c9" stroke-width="1.2"/>
<line x1="280.5" y1="471.5" x2="322.5" y2="471.5" stroke="#2273c9" stroke-width="1.2"/>
<line x1="322.5" y1="391.3" x2="322.5" y2="471.2" stroke="#2273c9" stroke-width="1.2"/>
<line x1="322.5" y1="471.2" x2="322.5" y2="503.6" stroke="#000" stroke-width="1.0"/>
<line x1="322.5" y1="402.5" x2="394.2" y2="402.5" stroke="#2273c9" stroke-width="1.2"/>
<line x1="394.2" y1="402.5" x2="442.1" y2="402.5" stroke="#000" stroke-width="1.2"/>
<line x1="322.5" y1="459.5" x2="394.2" y2="459.5" stroke="#2273c9" stroke-width="1.2"/>
<line x1="394.2" y1="459.5" x2="442.1" y2="459.5" stroke="#000" stroke-width="1.2"/>
<line x1="442.1" y1="402.4" x2="448.5" y2="407.9" stroke="#2273c9" stroke-width="1.2"/>
<line x1="442.1" y1="459.3" x2="448.5" y2="454.2" stroke="#2273c9" stroke-width="1.2"/>
<line x1="442.5" y1="402.4" x2="442.5" y2="459.3" stroke="#2273c9" stroke-width="1.2"/>
<line x1="442.5" y1="386.8" x2="442.5" y2="402.4" stroke="#000" stroke-width="1.0"/>
<line x1="448.5" y1="353.5" x2="448.5" y2="550.5" stroke="#000" stroke-width="1.2"/>
<line x1="222.5" y1="375" x2="222.5" y2="470.8" stroke="#000" stroke-width="1.0"/>
<polygon points="223,391.3 223.5,393.9 224.1,394.5 224.1,399.3 223.1,399.9 221.9,399.9 220.9,399.3 220.9,394.5 221.5,393.9 222,391.3" fill="#000" stroke="none"/>
<polygon points="222,470.8 221.5,468.2 220.9,467.6 220.9,462.8 221.9,462.2 223.1,462.2 224.1,462.8 224.1,467.6 223.5,468.2 223,470.8" fill="#000" stroke="none"/>
<circle cx="222.3" cy="368.2" r="7" fill="none" stroke="#000" stroke-width="0.9"/>
<text x="222.3" y="371.6" font-size="9.45" font-style="normal" text-anchor="middle" fill="#000" fill-opacity="0.88">5</text>
<line x1="259.5" y1="383" x2="259.5" y2="471.2" stroke="#000" stroke-width="1.0"/>
<polygon points="260,391.3 260.5,393.9 261.1,394.5 261.1,399.3 260.1,399.9 258.9,399.9 257.9,399.3 257.9,394.5 258.5,393.9 259,391.3" fill="#000" stroke="none"/>
<polygon points="259,471.2 258.5,468.6 257.9,468 257.9,463.2 258.9,462.6 260.1,462.6 261.1,463.2 261.1,468 260.5,468.6 260,471.2" fill="#000" stroke="none"/>
<circle cx="259.4" cy="375.9" r="7" fill="none" stroke="#000" stroke-width="0.9"/>
<text x="259.4" y="379.3" font-size="9.45" font-style="normal" text-anchor="middle" fill="#000" fill-opacity="0.88">3</text>
<g transform="translate(214.8 446) rotate(-90)">
<rect x="-1.5" y="-10.8" width="35.2" height="13.2" fill="#fff"/>
<text x="0" y="0" font-size="12.5" font-style="italic" text-anchor="start" textLength="18.9" lengthAdjust="spacingAndGlyphs" fill="#000" stroke="#fff" stroke-width="0.2">ø20</text>
<text x="19.4" y="3.4" font-size="8.75" font-style="italic" text-anchor="start" textLength="12.8" lengthAdjust="spacingAndGlyphs" fill="#000" fill-opacity="0.88">-0,5</text>
</g>
<g transform="translate(252.2 451.2) rotate(-90)">
<rect x="-1.5" y="-10.8" width="44.5" height="13.2" fill="#fff"/>
<text x="0" y="0" font-size="12.5" font-style="italic" text-anchor="start" textLength="25.6" lengthAdjust="spacingAndGlyphs" fill="#000" stroke="#fff" stroke-width="0.2">ø20,4</text>
<text x="26.1" y="3.9" font-size="8.75" font-style="italic" text-anchor="start" textLength="15.4" lengthAdjust="spacingAndGlyphs" fill="#000" fill-opacity="0.88">-0,2</text>
</g>
<line x1="237.2" y1="356.5" x2="455" y2="356.5" stroke="#000" stroke-width="1.0"/>
<polygon points="237.2,356 239.8,355.5 240.4,354.9 245.2,354.9 245.8,355.9 245.8,357.1 245.2,358.1 240.4,358.1 239.8,357.5 237.2,357" fill="#000" stroke="none"/>
<polygon points="448.5,357 445.9,357.5 445.3,358.1 440.5,358.1 439.9,357.1 439.9,355.9 440.5,354.9 445.3,354.9 445.9,355.5 448.5,356" fill="#000" stroke="none"/>
<circle cx="461.6" cy="356.7" r="6.6" fill="none" stroke="#000" stroke-width="0.9"/>
<text x="461.6" y="359.91" font-size="8.91" font-style="normal" text-anchor="middle" fill="#000" fill-opacity="0.88">4</text>
<text x="341.7" y="350.3" font-size="12.8" font-style="italic" text-anchor="middle" textLength="12" lengthAdjust="spacingAndGlyphs" fill="#000" stroke="#fff" stroke-width="0.2">96</text>
<text x="385.8" y="332.8" font-size="12.5" font-style="italic" text-anchor="start" textLength="65.3" lengthAdjust="spacingAndGlyphs" fill="#000" stroke="#fff" stroke-width="0.2">Переходы 1-5</text>
<line x1="388" y1="390.5" x2="462" y2="390.5" stroke="#000" stroke-width="1.0"/>
<polygon points="442.1,391 439.5,391.5 438.9,392.1 434.1,392.1 433.5,391.1 433.5,389.9 434.1,388.9 438.9,388.9 439.5,389.5 442.1,390" fill="#000" stroke="none"/>
<polygon points="448.5,390 451.1,389.5 451.7,388.9 456.5,388.9 457.1,389.9 457.1,391.1 456.5,392.1 451.7,392.1 451.1,391.5 448.5,391" fill="#000" stroke="none"/>
<circle cx="381.4" cy="390.4" r="6.6" fill="none" stroke="#000" stroke-width="0.9"/>
<text x="381.4" y="393.61" font-size="8.91" font-style="normal" text-anchor="middle" fill="#000" fill-opacity="0.88">9</text>
<text x="396.7" y="384.2" font-size="12" font-style="italic" text-anchor="start" textLength="33.3" lengthAdjust="spacingAndGlyphs" fill="#000" stroke="#fff" stroke-width="0.2">1,6x45°</text>
<line x1="394.5" y1="402.4" x2="394.5" y2="464.3" stroke="#000" stroke-width="1.0"/>
<polygon points="395,402.4 395.5,405 396.1,405.6 396.1,410.4 395.1,411 393.9,411 392.9,410.4 392.9,405.6 393.5,405 394,402.4" fill="#000" stroke="none"/>
<polygon points="394,459.3 393.5,456.7 392.9,456.1 392.9,451.3 393.9,450.7 395.1,450.7 396.1,451.3 396.1,456.1 395.5,456.7 395,459.3" fill="#000" stroke="none"/>
<circle cx="394.4" cy="470.9" r="6.6" fill="none" stroke="#000" stroke-width="0.9"/>
<text x="394.4" y="474.11" font-size="8.91" font-style="normal" text-anchor="middle" fill="#000" fill-opacity="0.88">7</text>
<g transform="translate(387.1 450.7) rotate(-90)">
<rect x="-1.5" y="-10.8" width="41.9" height="13.2" fill="#fff"/>
<text x="0" y="0" font-size="12.5" font-style="italic" text-anchor="start" textLength="25.1" lengthAdjust="spacingAndGlyphs" fill="#000" stroke="#fff" stroke-width="0.2">ø14,62</text>
<text x="25.1" y="3.6" font-size="8.75" font-style="italic" text-anchor="start" textLength="13.8" lengthAdjust="spacingAndGlyphs" fill="#000" fill-opacity="0.88">-0,14</text>
</g>
<line x1="197.2" y1="500.5" x2="329.3" y2="500.5" stroke="#000" stroke-width="1.0"/>
<polygon points="197.2,500 199.8,499.5 200.4,498.9 205.2,498.9 205.8,499.9 205.8,501.1 205.2,502.1 200.4,502.1 199.8,501.5 197.2,501" fill="#000" stroke="none"/>
<polygon points="322.3,501 319.7,501.5 319.1,502.1 314.3,502.1 313.7,501.1 313.7,499.9 314.3,498.9 319.1,498.9 319.7,499.5 322.3,500" fill="#000" stroke="none"/>
<circle cx="335.9" cy="500" r="6.6" fill="none" stroke="#000" stroke-width="0.9"/>
<text x="335.9" y="503.21" font-size="8.91" font-style="normal" text-anchor="middle" fill="#000" fill-opacity="0.88">8</text>
<text x="244" y="494.7" font-size="12.5" font-style="italic" text-anchor="start" textLength="30.5" lengthAdjust="spacingAndGlyphs" fill="#000" stroke="#fff" stroke-width="0.2">74±0,3</text>
<line x1="197.2" y1="525.5" x2="453.4" y2="525.5" stroke="#000" stroke-width="1.0"/>
<polygon points="197.2,525 199.8,524.5 200.4,523.9 205.2,523.9 205.8,524.9 205.8,526.1 205.2,527.1 200.4,527.1 199.8,526.5 197.2,526" fill="#000" stroke="none"/>
<polygon points="448.5,526 445.9,526.5 445.3,527.1 440.5,527.1 439.9,526.1 439.9,524.9 440.5,523.9 445.3,523.9 445.9,524.5 448.5,525" fill="#000" stroke="none"/>
<circle cx="460" cy="525.3" r="6.6" fill="none" stroke="#000" stroke-width="0.9"/>
<text x="460" y="528.51" font-size="8.91" font-style="normal" text-anchor="middle" fill="#000" fill-opacity="0.88">6</text>
<text x="308" y="517.5" font-size="12.5" font-style="italic" text-anchor="start" textLength="14.6" lengthAdjust="spacingAndGlyphs" fill="#000" stroke="#fff" stroke-width="0.2">106</text>
<text x="323.4" y="521" font-size="7.5" font-style="italic" text-anchor="start" textLength="12.5" lengthAdjust="spacingAndGlyphs" fill="#000" fill-opacity="0.88">-0,8</text>
<line x1="138.4" y1="547.5" x2="454" y2="547.5" stroke="#000" stroke-width="1.0"/>
<polygon points="138.4,547 141,546.5 141.6,545.9 146.4,545.9 147,546.9 147,548.1 146.4,549.1 141.6,549.1 141,548.5 138.4,548" fill="#000" stroke="none"/>
<polygon points="448.5,548 445.9,548.5 445.3,549.1 440.5,549.1 439.9,548.1 439.9,546.9 440.5,545.9 445.3,545.9 445.9,546.5 448.5,547" fill="#000" stroke="none"/>
<circle cx="460.6" cy="547" r="6.6" fill="none" stroke="#000" stroke-width="0.9"/>
<text x="460.6" y="550.21" font-size="8.91" font-style="normal" text-anchor="middle" fill="#000" fill-opacity="0.88">2</text>
<text x="278.9" y="541.6" font-size="12.5" font-style="italic" text-anchor="start" textLength="26.5" lengthAdjust="spacingAndGlyphs" fill="#000" stroke="#fff" stroke-width="0.2">437±1</text>
<line x1="136.2" y1="687.5" x2="466" y2="687.5" stroke="#c98a52" stroke-width="1.05" stroke-dasharray="36.2 2.6 3.6 2.6"/>
<line x1="140.5" y1="638.2" x2="140.5" y2="736.3" stroke="#000" stroke-width="1.2"/>
<line x1="130.5" y1="640" x2="130.5" y2="659" stroke="#000" stroke-width="1.0"/>
<polyline points="130.5,644.7 140.4,649.5 130.5,654.3" fill="none" stroke="#000" stroke-width="1.0"/>
<line x1="175.5" y1="619.4" x2="175.5" y2="631.7" stroke="#000" stroke-width="1.0"/>
<polyline points="166.2,627.9 169.8,627.9 175.6,637.3 180.9,627.9 184.3,627.9" fill="none" stroke="#000" stroke-width="1.0"/>
<polygon points="172.2,631.7 178.7,631.7 175.6,637.3" fill="none" stroke="#000" stroke-width="1.0"/>
<text x="166.8" y="625.4" font-size="5" font-style="normal" text-anchor="middle" fill="#000" fill-opacity="0.88">4</text>
<line x1="140.4" y1="638.5" x2="155" y2="638.5" stroke="#000" stroke-width="1.2"/>
<line x1="140.4" y1="736.5" x2="155.2" y2="736.5" stroke="#000" stroke-width="1.2"/>
<path d="M155.4,638.2 C154.6,641.92 151.32,655.2 150.6,660.5 C149.88,665.8 149.68,663.78 151.1,670 C152.52,676.22 157.58,690.5 159.1,697.8 C160.62,705.1 160.73,707.38 160.2,713.8 C159.67,720.22 156.62,732.55 155.9,736.3" fill="none" stroke="#000" stroke-width="1.2"/>
<path d="M163.4,638.2 C162.52,641.92 158.9,655.2 158.1,660.5 C157.3,665.8 157.1,663.78 158.6,670 C160.1,676.22 165.42,690.5 167.1,697.8 C168.78,705.1 169.23,707.38 168.7,713.8 C168.17,720.22 164.7,732.55 163.9,736.3" fill="none" stroke="#000" stroke-width="1.2"/>
<line x1="163.5" y1="638.5" x2="187.3" y2="638.5" stroke="#000" stroke-width="1.2"/>
<line x1="163.5" y1="736.5" x2="187.3" y2="736.5" stroke="#000" stroke-width="1.2"/>
<line x1="187.5" y1="638.2" x2="187.5" y2="736.3" stroke="#2273c9" stroke-width="1.2"/>
<line x1="199.5" y1="608.3" x2="199.5" y2="817.2" stroke="#000" stroke-width="1.2"/>
<line x1="199.4" y1="644" x2="205.3" y2="638.2" stroke="#2273c9" stroke-width="1.2"/>
<line x1="199.5" y1="731.2" x2="205.4" y2="736.3" stroke="#2273c9" stroke-width="1.2"/>
<line x1="205.5" y1="638.2" x2="205.5" y2="736.3" stroke="#2273c9" stroke-width="1.2"/>
<line x1="205.5" y1="608.3" x2="205.5" y2="638.2" stroke="#000" stroke-width="1.0"/>
<line x1="205.3" y1="638.5" x2="238.6" y2="638.5" stroke="#000" stroke-width="1.2"/>
<line x1="205.4" y1="736.5" x2="238.4" y2="736.5" stroke="#000" stroke-width="1.2"/>
<line x1="238.5" y1="638.2" x2="238.5" y2="736.3" stroke="#2273c9" stroke-width="1.2"/>
<line x1="238.5" y1="736.3" x2="238.5" y2="768.6" stroke="#000" stroke-width="1.0"/>
<line x1="241" y1="649.5" x2="250.7" y2="649.5" stroke="#2273c9" stroke-width="1.2"/>
<line x1="241" y1="727.5" x2="250.7" y2="727.5" stroke="#2273c9" stroke-width="1.2"/>
<path d="M238.6,645.5 Q239,649.5 241.5,649.5" fill="none" stroke="#2273c9" stroke-width="1.2"/>
<path d="M238.6,730 Q239,727 241.5,727" fill="none" stroke="#2273c9" stroke-width="1.2"/>
<line x1="250.7" y1="647.5" x2="296.1" y2="647.5" stroke="#000" stroke-width="1.2"/>
<line x1="250.7" y1="727.5" x2="295.7" y2="727.5" stroke="#000" stroke-width="1.2"/>
<line x1="250.5" y1="647.7" x2="250.5" y2="727.3" stroke="#2273c9" stroke-width="1.2"/>
<line x1="250.5" y1="727.3" x2="250.5" y2="768.6" stroke="#000" stroke-width="1.0"/>
<line x1="250.7" y1="649.5" x2="284.6" y2="649.5" stroke="#000" stroke-width="1.0"/>
<line x1="281.5" y1="649.5" x2="281.5" y2="730" stroke="#000" stroke-width="1.0"/>
<polygon points="282,649.5 282.5,652.1 283.1,652.7 283.1,657.5 282.1,658.1 280.9,658.1 279.9,657.5 279.9,652.7 280.5,652.1 281,649.5" fill="#000" stroke="none"/>
<polygon points="281,726.8 280.5,724.2 279.9,723.6 279.9,718.8 280.9,718.2 282.1,718.2 283.1,718.8 283.1,723.6 282.5,724.2 282,726.8" fill="#000" stroke="none"/>
<circle cx="281.3" cy="736.8" r="6.8" fill="none" stroke="#000" stroke-width="0.9"/>
<text x="281.3" y="740.1" font-size="9.18" font-style="normal" text-anchor="middle" textLength="8.26" lengthAdjust="spacingAndGlyphs" fill="#000" fill-opacity="0.88">10</text>
<g transform="translate(272.8 706) rotate(-90)">
<rect x="-1.5" y="-10.8" width="41" height="13.2" fill="#fff"/>
<text x="0" y="0" font-size="12.5" font-style="italic" text-anchor="start" textLength="24.9" lengthAdjust="spacingAndGlyphs" fill="#000" stroke="#fff" stroke-width="0.2">ø19,5</text>
<text x="24.9" y="5.2" font-size="8.75" font-style="italic" text-anchor="start" textLength="13.1" lengthAdjust="spacingAndGlyphs" fill="#000" fill-opacity="0.88">-0,5</text>
</g>
<path d="M296.1,647.7 C295.95,650.58 294.97,657.95 295.2,665 C295.43,672.05 297.23,682.5 297.5,690 C297.77,697.5 297.1,703.78 296.8,710 C296.5,716.22 295.88,724.42 295.7,727.3" fill="none" stroke="#000" stroke-width="1.2"/>
<path d="M301.8,647.7 C301.65,650.58 300.65,657.95 300.9,665 C301.15,672.05 302.92,682.5 303.3,690 C303.68,697.5 303.37,703.78 303.2,710 C303.03,716.22 302.45,724.42 302.3,727.3" fill="none" stroke="#000" stroke-width="1.2"/>
<line x1="301.8" y1="647.5" x2="336.4" y2="647.5" stroke="#000" stroke-width="1.2"/>
<line x1="302.3" y1="727.5" x2="336.6" y2="727.5" stroke="#000" stroke-width="1.2"/>
<line x1="336.5" y1="647.7" x2="336.5" y2="727.3" stroke="#2273c9" stroke-width="1.2"/>
<line x1="336.5" y1="727.3" x2="336.5" y2="793.5" stroke="#000" stroke-width="1.0"/>
<line x1="322.4" y1="662.5" x2="343" y2="662.5" stroke="#000" stroke-width="1.0"/>
<line x1="336.5" y1="662.5" x2="355.7" y2="662.5" stroke="#2273c9" stroke-width="1.2"/>
<line x1="322.2" y1="713.5" x2="343" y2="713.5" stroke="#000" stroke-width="1.0"/>
<line x1="336.5" y1="713.5" x2="355.5" y2="713.5" stroke="#2273c9" stroke-width="1.2"/>
<line x1="355.5" y1="662.2" x2="355.5" y2="757.3" stroke="#000" stroke-width="1.2"/>
<line x1="355.7" y1="662.2" x2="361.8" y2="656.5" stroke="#000" stroke-width="1.2"/>
<line x1="355.5" y1="713.3" x2="361.5" y2="719.1" stroke="#000" stroke-width="1.2"/>
<line x1="361.5" y1="656.5" x2="361.5" y2="719.1" stroke="#2273c9" stroke-width="1.2"/>
<line x1="361.8" y1="656.5" x2="455.7" y2="656.5" stroke="#000" stroke-width="1.2"/>
<line x1="361.5" y1="719.5" x2="455.5" y2="719.5" stroke="#000" stroke-width="1.2"/>
<line x1="455.7" y1="656.5" x2="462.3" y2="662.8" stroke="#000" stroke-width="1.2"/>
<line x1="455.5" y1="719.1" x2="462.2" y2="713.3" stroke="#000" stroke-width="1.2"/>
<line x1="455.5" y1="656.5" x2="455.5" y2="719.1" stroke="#000" stroke-width="1.2"/>
<line x1="462.5" y1="662.8" x2="462.5" y2="817.6" stroke="#000" stroke-width="1.2"/>
<line x1="325.5" y1="642" x2="325.5" y2="713.3" stroke="#000" stroke-width="1.0"/>
<polygon points="326,662.2 326.5,664.8 327.1,665.4 327.1,670.2 326.1,670.8 324.9,670.8 323.9,670.2 323.9,665.4 324.5,664.8 325,662.2" fill="#000" stroke="none"/>
<polygon points="325,713.3 324.5,710.7 323.9,710.1 323.9,705.3 324.9,704.7 326.1,704.7 327.1,705.3 327.1,710.1 326.5,710.7 326,713.3" fill="#000" stroke="none"/>
<circle cx="325.8" cy="635" r="6.8" fill="none" stroke="#000" stroke-width="0.9"/>
<text x="325.8" y="638.3" font-size="9.18" font-style="normal" text-anchor="middle" textLength="8.26" lengthAdjust="spacingAndGlyphs" fill="#000" fill-opacity="0.88">14</text>
<g transform="translate(317.9 701.8) rotate(-90)">
<rect x="-1.5" y="-10.8" width="30.7" height="13.2" fill="#fff"/>
<text x="0" y="0" font-size="12.5" font-style="italic" text-anchor="start" textLength="15.5" lengthAdjust="spacingAndGlyphs" fill="#000" stroke="#fff" stroke-width="0.2">ø13</text>
<text x="15.5" y="3.8" font-size="8.75" font-style="italic" text-anchor="start" textLength="12.2" lengthAdjust="spacingAndGlyphs" fill="#000" fill-opacity="0.88">-0,4</text>
</g>
<polyline points="385,627.9 346,627.9 341.8,662" fill="none" stroke="#000" stroke-width="1.0"/>
<polygon points="341.3,661.94 341.12,659.3 340.59,658.63 341.16,653.87 342.23,653.39 343.42,653.53 344.34,654.25 343.77,659.01 343.1,659.54 342.3,662.06" fill="#000" stroke="none"/>
<circle cx="391.5" cy="627.9" r="6.8" fill="none" stroke="#000" stroke-width="0.9"/>
<text x="391.5" y="631.2" font-size="9.18" font-style="normal" text-anchor="middle" textLength="8.26" lengthAdjust="spacingAndGlyphs" fill="#000" fill-opacity="0.88">18</text>
<polyline points="385.2,645.8 350.3,645.8 355.7,662" fill="none" stroke="#000" stroke-width="1.0"/>
<polygon points="355.22,662.15 353.96,659.83 353.2,659.44 351.74,654.87 352.51,653.99 353.65,653.63 354.79,653.89 356.25,658.46 355.86,659.22 356.18,661.85" fill="#000" stroke="none"/>
<circle cx="392" cy="645.8" r="6.8" fill="none" stroke="#000" stroke-width="0.9"/>
<text x="392" y="649.1" font-size="9.18" font-style="normal" text-anchor="middle" textLength="8.26" lengthAdjust="spacingAndGlyphs" fill="#000" fill-opacity="0.88">17</text>
<polyline points="278.4,635.2 253.1,635.2 239.5,647" fill="none" stroke="#000" stroke-width="1.0"/>
<polygon points="239.17,646.62 240.81,644.54 240.86,643.69 244.49,640.54 245.6,640.9 246.38,641.81 246.59,642.96 242.96,646.11 242.12,646.05 239.83,647.38" fill="#000" stroke="none"/>
<circle cx="285.2" cy="635.2" r="6.8" fill="none" stroke="#000" stroke-width="0.9"/>
<text x="285.2" y="638.5" font-size="9.18" font-style="normal" text-anchor="middle" textLength="8.26" lengthAdjust="spacingAndGlyphs" fill="#000" fill-opacity="0.88">13</text>
<text x="350.3" y="622.8" font-size="12.5" font-style="italic" text-anchor="start" textLength="19.4" lengthAdjust="spacingAndGlyphs" fill="#000" stroke="#fff" stroke-width="0.2">R1,6</text>
<text x="354.5" y="639.2" font-size="12.5" font-style="italic" text-anchor="start" textLength="20.6" lengthAdjust="spacingAndGlyphs" fill="#000" stroke="#fff" stroke-width="0.2">R0,5</text>
<text x="257.3" y="628.9" font-size="12.5" font-style="italic" text-anchor="start" textLength="11.6" lengthAdjust="spacingAndGlyphs" fill="#000" stroke="#fff" stroke-width="0.2">R1</text>
<line x1="186.5" y1="611.5" x2="259.6" y2="611.5" stroke="#000" stroke-width="1.0"/>
<polygon points="199.4,612 196.8,612.5 196.2,613.1 191.4,613.1 190.8,612.1 190.8,610.9 191.4,609.9 196.2,609.9 196.8,610.5 199.4,611" fill="#000" stroke="none"/>
<polygon points="205.3,611 207.9,610.5 208.5,609.9 213.3,609.9 213.9,610.9 213.9,612.1 213.3,613.1 208.5,613.1 207.9,612.5 205.3,612" fill="#000" stroke="none"/>
<circle cx="266.4" cy="611.7" r="6.8" fill="none" stroke="#000" stroke-width="0.9"/>
<text x="266.4" y="615" font-size="9.18" font-style="normal" text-anchor="middle" textLength="8.26" lengthAdjust="spacingAndGlyphs" fill="#000" fill-opacity="0.88">20</text>
<text x="216.8" y="605.3" font-size="12" font-style="italic" text-anchor="start" textLength="32.7" lengthAdjust="spacingAndGlyphs" fill="#000" stroke="#fff" stroke-width="0.2">1,6x45°</text>
<line x1="191" y1="765.5" x2="292.5" y2="765.5" stroke="#000" stroke-width="1.0"/>
<polygon points="199.5,765 202.1,764.5 202.7,763.9 207.5,763.9 208.1,764.9 208.1,766.1 207.5,767.1 202.7,767.1 202.1,766.5 199.5,766" fill="#000" stroke="none"/>
<polygon points="238.4,766 235.8,766.5 235.2,767.1 230.4,767.1 229.8,766.1 229.8,764.9 230.4,763.9 235.2,763.9 235.8,764.5 238.4,765" fill="#000" stroke="none"/>
<polygon points="250.6,765 253.2,764.5 253.8,763.9 258.6,763.9 259.2,764.9 259.2,766.1 258.6,767.1 253.8,767.1 253.2,766.5 250.6,766" fill="#000" stroke="none"/>
<circle cx="184.2" cy="765.6" r="6.8" fill="none" stroke="#000" stroke-width="0.9"/>
<text x="184.2" y="768.9" font-size="9.18" font-style="normal" text-anchor="middle" textLength="8.26" lengthAdjust="spacingAndGlyphs" fill="#000" fill-opacity="0.88">12</text>
<circle cx="300.5" cy="765.1" r="6.8" fill="none" stroke="#000" stroke-width="0.9"/>
<text x="300.5" y="768.4" font-size="9.18" font-style="normal" text-anchor="middle" textLength="8.26" lengthAdjust="spacingAndGlyphs" fill="#000" fill-opacity="0.88">11</text>
<text x="203.2" y="759.1" font-size="12.5" font-style="italic" text-anchor="start" textLength="29.5" lengthAdjust="spacingAndGlyphs" fill="#000" stroke="#fff" stroke-width="0.2">10±0,2</text>
<text x="260" y="759" font-size="12.5" font-style="italic" text-anchor="start" textLength="5.5" lengthAdjust="spacingAndGlyphs" fill="#000" stroke="#fff" stroke-width="0.2">3</text>
<text x="270" y="751.3" font-size="8.5" font-style="italic" text-anchor="start" textLength="16" lengthAdjust="spacingAndGlyphs" fill="#000" fill-opacity="0.88">-0,25</text>
<line x1="299.3" y1="754.5" x2="372.7" y2="754.5" stroke="#000" stroke-width="1.0"/>
<polygon points="336.6,755 334,755.5 333.4,756.1 328.6,756.1 328,755.1 328,753.9 328.6,752.9 333.4,752.9 334,753.5 336.6,754" fill="#000" stroke="none"/>
<polygon points="355.6,754 358.2,753.5 358.8,752.9 363.6,752.9 364.2,753.9 364.2,755.1 363.6,756.1 358.8,756.1 358.2,755.5 355.6,755" fill="#000" stroke="none"/>
<circle cx="379.5" cy="754.5" r="6.8" fill="none" stroke="#000" stroke-width="0.9"/>
<text x="379.5" y="757.8" font-size="9.18" font-style="normal" text-anchor="middle" textLength="8.26" lengthAdjust="spacingAndGlyphs" fill="#000" fill-opacity="0.88">15</text>
<text x="302.9" y="748.3" font-size="12.5" font-style="italic" text-anchor="start" textLength="5.5" lengthAdjust="spacingAndGlyphs" fill="#000" stroke="#fff" stroke-width="0.2">5</text>
<text x="312" y="740.4" font-size="8.5" font-style="italic" text-anchor="start" textLength="12.6" lengthAdjust="spacingAndGlyphs" fill="#000" fill-opacity="0.88">-0,3</text>
<line x1="191" y1="791.5" x2="336.6" y2="791.5" stroke="#000" stroke-width="1.0"/>
<polygon points="199.5,791 202.1,790.5 202.7,789.9 207.5,789.9 208.1,790.9 208.1,792.1 207.5,793.1 202.7,793.1 202.1,792.5 199.5,792" fill="#000" stroke="none"/>
<polygon points="336.6,792 334,792.5 333.4,793.1 328.6,793.1 328,792.1 328,790.9 328.6,789.9 333.4,789.9 334,790.5 336.6,791" fill="#000" stroke="none"/>
<circle cx="184.2" cy="791.5" r="6.8" fill="none" stroke="#000" stroke-width="0.9"/>
<text x="184.2" y="794.8" font-size="9.18" font-style="normal" text-anchor="middle" textLength="8.26" lengthAdjust="spacingAndGlyphs" fill="#000" fill-opacity="0.88">19</text>
<text x="250.6" y="785.4" font-size="12.5" font-style="italic" text-anchor="start" textLength="31.8" lengthAdjust="spacingAndGlyphs" fill="#000" stroke="#fff" stroke-width="0.2">74±0,3</text>
<line x1="191" y1="814.5" x2="462.2" y2="814.5" stroke="#000" stroke-width="1.0"/>
<polygon points="199.5,814 202.1,813.5 202.7,812.9 207.5,812.9 208.1,813.9 208.1,815.1 207.5,816.1 202.7,816.1 202.1,815.5 199.5,815" fill="#000" stroke="none"/>
<polygon points="462.2,815 459.6,815.5 459,816.1 454.2,816.1 453.6,815.1 453.6,813.9 454.2,812.9 459,812.9 459.6,813.5 462.2,814" fill="#000" stroke="none"/>
<circle cx="184.2" cy="814.4" r="6.8" fill="none" stroke="#000" stroke-width="0.9"/>
<text x="184.2" y="817.7" font-size="9.18" font-style="normal" text-anchor="middle" textLength="8.26" lengthAdjust="spacingAndGlyphs" fill="#000" fill-opacity="0.88">21</text>
<text x="315" y="805.5" font-size="12.5" font-style="italic" text-anchor="start" textLength="14.6" lengthAdjust="spacingAndGlyphs" fill="#000" stroke="#fff" stroke-width="0.2">106</text>
<text x="330.4" y="809" font-size="7.5" font-style="italic" text-anchor="start" textLength="12.5" lengthAdjust="spacingAndGlyphs" fill="#000" fill-opacity="0.88">-0,8</text>
<line x1="361.4" y1="719.1" x2="403.5" y2="761" stroke="#000" stroke-width="1.0"/>
<path d="M417.4,719.1 A56,56 0 0 1 401,758.7" fill="none" stroke="#000" stroke-width="1.0"/>
<polygon points="417.9,719.12 418.27,721.75 418.84,722.38 418.6,727.17 417.57,727.72 416.37,727.66 415.4,727.01 415.64,722.22 416.27,721.65 416.9,719.08" fill="#000" stroke="none"/>
<polygon points="400.67,758.32 402.29,756.23 402.35,755.38 405.95,752.21 407.06,752.57 407.85,753.47 408.06,754.62 404.46,757.79 403.61,757.73 401.33,759.08" fill="#000" stroke="none"/>
<line x1="398" y1="762" x2="394.5" y2="765.5" stroke="#000" stroke-width="1.0"/>
<circle cx="389.8" cy="769.4" r="6.8" fill="none" stroke="#000" stroke-width="0.9"/>
<text x="389.8" y="772.7" font-size="9.18" font-style="normal" text-anchor="middle" textLength="8.26" lengthAdjust="spacingAndGlyphs" fill="#000" fill-opacity="0.88">16</text>
<text x="409" y="738" font-size="12.5" font-style="italic" text-anchor="middle" textLength="17" lengthAdjust="spacingAndGlyphs" transform="rotate(-62 409 738)" fill="#000" stroke="#fff" stroke-width="0.2">45°</text>
<text x="386" y="599.8" font-size="12.5" font-style="italic" text-anchor="start" textLength="69" lengthAdjust="spacingAndGlyphs" fill="#000" stroke="#fff" stroke-width="0.2">Переходы 6-9</text>
<line x1="136.2" y1="948.5" x2="477.6" y2="948.5" stroke="#c98a52" stroke-width="1.05" stroke-dasharray="36.2 2.6 3.6 2.6"/>
<line x1="423.5" y1="895.1" x2="423.5" y2="1001.8" stroke="#c98a52" stroke-width="1.1" stroke-dasharray="36.2 2.6 3.6 2.6"/>
<line x1="130.5" y1="901.1" x2="130.5" y2="920.3" stroke="#000" stroke-width="1.0"/>
<polyline points="130.6,905.9 140.4,910.7 130.6,915.5" fill="none" stroke="#000" stroke-width="1.0"/>
<polyline points="146.5,899.5 140.4,905.2 140.4,992.3 146.5,997.4" fill="none" stroke="#000" stroke-width="1.2"/>
<line x1="146.5" y1="899.5" x2="146.5" y2="997.4" stroke="#000" stroke-width="1.2"/>
<line x1="146.5" y1="899.5" x2="179.5" y2="899.5" stroke="#000" stroke-width="1.2"/>
<line x1="146.5" y1="997.5" x2="179.5" y2="997.5" stroke="#000" stroke-width="1.2"/>
<line x1="179.5" y1="899.5" x2="179.5" y2="1028.5" stroke="#000" stroke-width="1.2"/>
<line x1="140.5" y1="992.3" x2="140.5" y2="1028.5" stroke="#000" stroke-width="1.0"/>
<line x1="146.5" y1="925.5" x2="179.5" y2="925.5" stroke="#2273c9" stroke-width="1.2"/>
<line x1="146.5" y1="972.5" x2="179.5" y2="972.5" stroke="#2273c9" stroke-width="1.2"/>
<path d="M146.5,925 Q140.6,935 140.6,948.3 Q140.6,961 146.5,972.6" fill="none" stroke="#2273c9" stroke-width="1.2"/>
<path d="M179.5,906 Q180,910.5 182.5,910.5 L191.4,910.5" fill="none" stroke="#000" stroke-width="1.2"/>
<path d="M179.5,990.5 Q180,987.5 182.5,987.5 L191.4,987.5" fill="none" stroke="#000" stroke-width="1.2"/>
<line x1="191.5" y1="908.5" x2="191.5" y2="988.2" stroke="#000" stroke-width="1.2"/>
<line x1="191.4" y1="908.5" x2="207.3" y2="908.5" stroke="#000" stroke-width="1.2"/>
<line x1="191.4" y1="988.5" x2="207.3" y2="988.5" stroke="#000" stroke-width="1.2"/>
<polyline points="207.1,908.5 206.2,914.4 207.5,948.2 209.9,958.5 208.8,978.2 207.3,988.5" fill="none" stroke="#000" stroke-width="1.2"/>
<polyline points="213.7,908.5 212.3,914.4 213.7,948.2 216,959.4 215.5,978.2 213.9,988.5" fill="none" stroke="#000" stroke-width="1.2"/>
<line x1="213.5" y1="908.5" x2="238.7" y2="908.5" stroke="#000" stroke-width="1.2"/>
<line x1="213.8" y1="988.5" x2="238.7" y2="988.5" stroke="#000" stroke-width="1.2"/>
<line x1="238.5" y1="908.5" x2="238.5" y2="988.2" stroke="#000" stroke-width="1.2"/>
<path d="M238.7,914 Q240,923.5 246,923.5 L258.5,923.5" fill="none" stroke="#000" stroke-width="1.2"/>
<path d="M238.7,982.5 Q240,974.5 246,974.5 L258.5,974.5" fill="none" stroke="#000" stroke-width="1.2"/>
<line x1="258.5" y1="923.3" x2="258.5" y2="974.4" stroke="#000" stroke-width="1.2"/>
<line x1="258.5" y1="923.3" x2="264.5" y2="917.5" stroke="#000" stroke-width="1.2"/>
<line x1="258.5" y1="974.4" x2="264.5" y2="979.6" stroke="#000" stroke-width="1.2"/>
<line x1="264.5" y1="917.5" x2="264.5" y2="979.6" stroke="#000" stroke-width="1.2"/>
<line x1="264.5" y1="917.5" x2="358.1" y2="917.5" stroke="#000" stroke-width="1.2"/>
<line x1="264.5" y1="979.5" x2="358.1" y2="979.5" stroke="#000" stroke-width="1.2"/>
<line x1="358.5" y1="917.5" x2="358.5" y2="979.6" stroke="#000" stroke-width="1.2"/>
<line x1="358.1" y1="917.5" x2="364.1" y2="922.2" stroke="#000" stroke-width="1.2"/>
<line x1="358.1" y1="979.6" x2="364.1" y2="974.8" stroke="#000" stroke-width="1.2"/>
<line x1="364.5" y1="887.4" x2="364.5" y2="974.8" stroke="#000" stroke-width="1.2"/>
<line x1="374.5" y1="882.3" x2="374.5" y2="900.7" stroke="#000" stroke-width="1.0"/>
<polyline points="374.6,886.1 364.5,891.2 374.6,896.6" fill="none" stroke="#000" stroke-width="1.0"/>
<line x1="233.5" y1="889.3" x2="233.5" y2="903" stroke="#000" stroke-width="1.0"/>
<polygon points="230.5,902 236.3,902 233.4,908.2" fill="none" stroke="#000" stroke-width="1.0"/>
<line x1="223.9" y1="998.5" x2="242.3" y2="998.5" stroke="#000" stroke-width="1.0"/>
<polyline points="228.5,998.6 233.6,989.4 237.7,998.6" fill="none" stroke="#000" stroke-width="1.0"/>
<polyline points="244.6,992.3 248.6,998 253.2,998 256.7,992.3" fill="none" stroke="#000" stroke-width="1.0"/>
<line x1="140.4" y1="1025.5" x2="188.7" y2="1025.5" stroke="#000" stroke-width="1.0"/>
<polygon points="140.4,1025 143,1024.5 143.6,1023.9 148.4,1023.9 149,1024.9 149,1026.1 148.4,1027.1 143.6,1027.1 143,1026.5 140.4,1026" fill="#000" stroke="none"/>
<polygon points="179.4,1026 176.8,1026.5 176.2,1027.1 171.4,1027.1 170.8,1026.1 170.8,1024.9 171.4,1023.9 176.2,1023.9 176.8,1024.5 179.4,1025" fill="#000" stroke="none"/>
<circle cx="195.3" cy="1025.3" r="6.5" fill="none" stroke="#000" stroke-width="0.9"/>
<text x="195.3" y="1028.46" font-size="8.78" font-style="normal" text-anchor="middle" textLength="7.9" lengthAdjust="spacingAndGlyphs" fill="#000" fill-opacity="0.88">23</text>
<text x="154.7" y="1019.3" font-size="12.5" font-style="italic" text-anchor="start" textLength="9.8" lengthAdjust="spacingAndGlyphs" fill="#000" stroke="#fff" stroke-width="0.2">10</text>
<clipPath id="cv"><rect x="380.5" y="890" width="86" height="120"/></clipPath>
<circle cx="423.2" cy="948.5" r="48.5" fill="none" stroke="#000" stroke-width="1.2" clip-path="url(#cv)"/>
<circle cx="423.2" cy="948.5" r="42.7" fill="none" stroke="#000" stroke-width="1.2"/>
<line x1="380.5" y1="926" x2="380.5" y2="971" stroke="#2273c9" stroke-width="1.2"/>
<line x1="466.5" y1="926" x2="466.5" y2="971" stroke="#2273c9" stroke-width="1.2"/>
<line x1="380.5" y1="971" x2="380.5" y2="1028.4" stroke="#000" stroke-width="1.0"/>
<line x1="466.5" y1="971" x2="466.5" y2="1028.4" stroke="#000" stroke-width="1.0"/>
<line x1="373.2" y1="1025.5" x2="466.5" y2="1025.5" stroke="#000" stroke-width="1.0"/>
<polygon points="380.5,1025 383.1,1024.5 383.7,1023.9 388.5,1023.9 389.1,1024.9 389.1,1026.1 388.5,1027.1 383.7,1027.1 383.1,1026.5 380.5,1026" fill="#000" stroke="none"/>
<polygon points="466.5,1026 463.9,1026.5 463.3,1027.1 458.5,1027.1 457.9,1026.1 457.9,1024.9 458.5,1023.9 463.3,1023.9 463.9,1024.5 466.5,1025" fill="#000" stroke="none"/>
<circle cx="366.7" cy="1025.2" r="6.5" fill="none" stroke="#000" stroke-width="0.9"/>
<text x="366.7" y="1028.36" font-size="8.78" font-style="normal" text-anchor="middle" textLength="7.9" lengthAdjust="spacingAndGlyphs" fill="#000" fill-opacity="0.88">22</text>
<text x="407.2" y="1014.5" font-size="12.5" font-style="italic" text-anchor="start" textLength="12" lengthAdjust="spacingAndGlyphs" fill="#000" stroke="#fff" stroke-width="0.2">22</text>
<text x="419.5" y="1019" font-size="8.5" font-style="italic" text-anchor="start" textLength="16.5" lengthAdjust="spacingAndGlyphs" fill="#000" fill-opacity="0.88">-0,21</text>
<line x1="924.5" y1="157.5" x2="1141" y2="157.5" stroke="#c98a52" stroke-width="1.05" stroke-dasharray="36.2 2.6 3.6 2.6"/>
<path d="M932,132.4 L948.5,132.4 L948.5,182.2 L932,182.2 Q929.3,182 929.3,178 L929.3,136.5 Q929.3,132.6 932,132.4" fill="none" stroke="#000" stroke-width="1.2"/>
<line x1="932" y1="144.5" x2="948.5" y2="144.5" stroke="#000" stroke-width="1.2"/>
<line x1="932" y1="169.5" x2="948.5" y2="169.5" stroke="#000" stroke-width="1.2"/>
<path d="M932,144.9 Q929.5,150 929.8,157.4 Q929.5,165 932,169.7" fill="none" stroke="#000" stroke-width="1.2"/>
<polyline points="948.5,138.5 954.5,138.5 954.5,176.5 948.5,176.5" fill="none" stroke="#000" stroke-width="1.2"/>
<line x1="954.5" y1="137.5" x2="1049.4" y2="137.5" stroke="#2273c9" stroke-width="1.2"/>
<line x1="954.5" y1="177.5" x2="1049.4" y2="177.5" stroke="#2273c9" stroke-width="1.2"/>
<line x1="1049.4" y1="137.5" x2="1074.4" y2="137.5" stroke="#000" stroke-width="1.2"/>
<line x1="1049.4" y1="177.5" x2="1074.4" y2="177.5" stroke="#000" stroke-width="1.2"/>
<line x1="954.5" y1="137.4" x2="954.5" y2="177.2" stroke="#000" stroke-width="1.2"/>
<line x1="1074.5" y1="137.4" x2="1074.5" y2="177.2" stroke="#000" stroke-width="1.2"/>
<polyline points="1074.5,143.5 1078.5,143.5" fill="none" stroke="#000" stroke-width="1.0"/>
<polyline points="1074.5,170.5 1078.5,170.5" fill="none" stroke="#000" stroke-width="1.0"/>
<line x1="1078" y1="143.5" x2="1084.9" y2="143.5" stroke="#000" stroke-width="1.2"/>
<line x1="1078" y1="170.5" x2="1084.9" y2="170.5" stroke="#000" stroke-width="1.2"/>
<line x1="1084.5" y1="143.7" x2="1084.5" y2="170.9" stroke="#000" stroke-width="1.2"/>
<path d="M1086.7,141 L1134.7,141 Q1138.5,143 1138.5,157.3 Q1138.5,171.5 1134.7,173.6 L1086.7,173.6 Z" fill="none" stroke="#000" stroke-width="1.2"/>
<line x1="1134.5" y1="141" x2="1134.5" y2="173.6" stroke="#000" stroke-width="1.0"/>
<line x1="1050.5" y1="137.4" x2="1050.5" y2="245.3" stroke="#000" stroke-width="1.0"/>
<polygon points="1051,137.4 1051.5,140 1052.1,140.6 1052.1,145.4 1051.1,146 1049.9,146 1048.9,145.4 1048.9,140.6 1049.5,140 1050,137.4" fill="#000" stroke="none"/>
<polygon points="1050,177.2 1049.5,174.6 1048.9,174 1048.9,169.2 1049.9,168.6 1051.1,168.6 1052.1,169.2 1052.1,174 1051.5,174.6 1051,177.2" fill="#000" stroke="none"/>
<circle cx="1050.2" cy="251.5" r="6.2" fill="none" stroke="#000" stroke-width="0.9"/>
<text x="1050.2" y="254.2" font-size="7.5" font-style="normal" text-anchor="middle" textLength="6.75" lengthAdjust="spacingAndGlyphs" fill="#000" fill-opacity="0.88">24</text>
<g transform="translate(1043 231.7) rotate(-90)">
<text x="0" y="0" font-size="12.5" font-style="italic" text-anchor="start" textLength="18.9" lengthAdjust="spacingAndGlyphs" fill="#000" stroke="#fff" stroke-width="0.2">ø20</text>
</g>
<g transform="translate(1035.4 209.7) rotate(-90)">
<text x="0" y="0" font-size="8.75" font-style="italic" text-anchor="start" textLength="22" lengthAdjust="spacingAndGlyphs" fill="#000" fill-opacity="0.88">-0,068</text>
</g>
<g transform="translate(1046.9 213.8) rotate(-90)">
<text x="0" y="0" font-size="8.75" font-style="italic" text-anchor="start" textLength="22" lengthAdjust="spacingAndGlyphs" fill="#000" fill-opacity="0.88">-0,092</text>
</g>
<polyline points="998.2,127.1 1000.8,127.1 1006.5,137 1012.5,127.1 1015.5,127.1" fill="none" stroke="#000" stroke-width="1.0"/>
<polyline points="1032.1,127.1 1038.2,137.2 1046.9,119.9 1089.7,119.9" fill="none" stroke="#000" stroke-width="1.0"/>
<text x="1048" y="132.4" font-size="12.5" font-style="italic" text-anchor="start" textLength="35.4" lengthAdjust="spacingAndGlyphs" fill="#000" stroke="#fff" stroke-width="0.2">Ra 1,25</text>
<polyline points="1147.9,139.5 1137.9,148.3 1147.9,157.3" fill="none" stroke="#000" stroke-width="1.0"/>
<line x1="1147.5" y1="137.5" x2="1147.5" y2="142" stroke="#000" stroke-width="1.0"/>
<line x1="1147.5" y1="153" x2="1147.5" y2="157.5" stroke="#000" stroke-width="1.0"/>
<line x1="908.4" y1="424.5" x2="1126.2" y2="424.5" stroke="#c98a52" stroke-width="1.05" stroke-dasharray="36.2 2.6 3.6 2.6"/>
<path d="M916.5,399.4 L932.5,399.4 L932.5,448.7 L916.5,448.7 Q913.7,448.5 913.7,444.5 L913.7,403.5 Q913.7,399.6 916.5,399.4" fill="none" stroke="#000" stroke-width="1.2"/>
<line x1="916.5" y1="412.5" x2="932.5" y2="412.5" stroke="#000" stroke-width="1.2"/>
<line x1="916.5" y1="434.5" x2="932.5" y2="434.5" stroke="#000" stroke-width="1.2"/>
<path d="M916.5,412.5 Q914,418 914.2,424.1 Q914,430 916.5,434.9" fill="none" stroke="#000" stroke-width="1.2"/>
<rect x="932.5" y="404.5" width="6" height="39" fill="none" stroke="#000" stroke-width="1.2"/>
<rect x="938.5" y="404.5" width="120" height="39" fill="none" stroke="#000" stroke-width="1.2"/>
<polyline points="1058.5,410.5 1062.5,410.5" fill="none" stroke="#000" stroke-width="1.0"/>
<polyline points="1058.5,436.5 1062.5,436.5" fill="none" stroke="#000" stroke-width="1.0"/>
<line x1="1062" y1="410.5" x2="1068.9" y2="410.5" stroke="#000" stroke-width="1.2"/>
<line x1="1062" y1="436.5" x2="1068.9" y2="436.5" stroke="#000" stroke-width="1.2"/>
<line x1="1068.5" y1="409" x2="1068.5" y2="439" stroke="#000" stroke-width="1.2"/>
<path d="M1068.9,409 L1120.9,409 L1120.9,439 L1068.9,439" fill="none" stroke="#000" stroke-width="1.2"/>
<line x1="1071.2" y1="409.5" x2="1118.6" y2="409.5" stroke="#2273c9" stroke-width="1.2"/>
<line x1="1071.2" y1="439.5" x2="1118.6" y2="439.5" stroke="#2273c9" stroke-width="1.2"/>
<line x1="1071.5" y1="409" x2="1071.5" y2="439" stroke="#000" stroke-width="1.0"/>
<line x1="1118.5" y1="409" x2="1118.5" y2="439" stroke="#000" stroke-width="1.0"/>
<line x1="1120.9" y1="409.5" x2="1181.2" y2="409.5" stroke="#000" stroke-width="1.0"/>
<line x1="1120.9" y1="439.5" x2="1181.2" y2="439.5" stroke="#000" stroke-width="1.0"/>
<line x1="1178.5" y1="409" x2="1178.5" y2="496" stroke="#000" stroke-width="1.0"/>
<polygon points="1179,409 1179.5,411.6 1180.1,412.2 1180.1,417 1179.1,417.6 1177.9,417.6 1176.9,417 1176.9,412.2 1177.5,411.6 1178,409" fill="#000" stroke="none"/>
<polygon points="1178,439 1177.5,436.4 1176.9,435.8 1176.9,431 1177.9,430.4 1179.1,430.4 1180.1,431 1180.1,435.8 1179.5,436.4 1179,439" fill="#000" stroke="none"/>
<circle cx="1178.2" cy="502.5" r="6.2" fill="none" stroke="#000" stroke-width="0.9"/>
<text x="1178.2" y="505.2" font-size="7.5" font-style="normal" text-anchor="middle" textLength="6.75" lengthAdjust="spacingAndGlyphs" fill="#000" fill-opacity="0.88">25</text>
<g transform="translate(1172.9 487.6) rotate(-90)">
<text x="0" y="0" font-size="12.5" font-style="italic" text-anchor="start" textLength="35.8" lengthAdjust="spacingAndGlyphs" fill="#000" stroke="#fff" stroke-width="0.2">M16-8g</text>
</g>
<polyline points="1079.2,398.2 1081.8,398.2 1088.4,409 1094.8,398.2 1097.5,398.2" fill="none" stroke="#000" stroke-width="1.0"/>
<polyline points="1136.5,398.2 1141.5,409 1149.1,391.4 1188.1,391.4" fill="none" stroke="#000" stroke-width="1.0"/>
<text x="1152.5" y="403.5" font-size="12.5" font-style="italic" text-anchor="start" textLength="28.7" lengthAdjust="spacingAndGlyphs" fill="#000" stroke="#fff" stroke-width="0.2">Rz 20</text>
<polyline points="1131.5,419.6 1121.8,427 1131.5,437.2" fill="none" stroke="#000" stroke-width="1.0"/>
<line x1="1131.5" y1="415.5" x2="1131.5" y2="422" stroke="#000" stroke-width="1.0"/>
<line x1="1131.5" y1="434" x2="1131.5" y2="441" stroke="#000" stroke-width="1.0"/>
<rect x="17.5" y="595.5" width="23" height="237" fill="none" stroke="#2273c9" stroke-width="1.25"/>
<line x1="27.5" y1="595.3" x2="27.5" y2="832.3" stroke="#2273c9" stroke-width="1.25"/>
<line x1="17.6" y1="714.5" x2="40.4" y2="714.5" stroke="#2273c9" stroke-width="1.25"/>
<rect x="17.5" y="875.5" width="23" height="285" fill="none" stroke="#2273c9" stroke-width="1.25"/>
<line x1="27.5" y1="875.4" x2="27.5" y2="1160.2" stroke="#2273c9" stroke-width="1.25"/>
<line x1="17.6" y1="944.5" x2="40.4" y2="944.5" stroke="#2273c9" stroke-width="1.25"/>
<line x1="17.6" y1="993.5" x2="40.4" y2="993.5" stroke="#2273c9" stroke-width="1.25"/>
<line x1="17.6" y1="1042.5" x2="40.4" y2="1042.5" stroke="#2273c9" stroke-width="1.25"/>
<line x1="17.6" y1="1111.5" x2="40.4" y2="1111.5" stroke="#2273c9" stroke-width="1.25"/>
<text x="25.2" y="654.9" font-size="8.3" font-style="italic" text-anchor="middle" textLength="46" lengthAdjust="spacingAndGlyphs" transform="rotate(-90 25.2 654.9)" fill="#000" font-weight="bold">Перв. примен.</text>
<text x="25.2" y="773.5" font-size="8.3" font-style="italic" text-anchor="middle" textLength="27" lengthAdjust="spacingAndGlyphs" transform="rotate(-90 25.2 773.5)" fill="#000" font-weight="bold">Справ. №</text>
<text x="25.2" y="910" font-size="8.3" font-style="italic" text-anchor="middle" textLength="40" lengthAdjust="spacingAndGlyphs" transform="rotate(-90 25.2 910)" fill="#000" font-weight="bold">Подп. и дата</text>
<text x="25.2" y="968.8" font-size="8.3" font-style="italic" text-anchor="middle" textLength="40" lengthAdjust="spacingAndGlyphs" transform="rotate(-90 25.2 968.8)" fill="#000" font-weight="bold">Инв. № дубл.</text>
<text x="25.2" y="1017.7" font-size="8.3" font-style="italic" text-anchor="middle" textLength="42" lengthAdjust="spacingAndGlyphs" transform="rotate(-90 25.2 1017.7)" fill="#000" font-weight="bold">Взам. инв. №</text>
<text x="25.2" y="1076.7" font-size="8.3" font-style="italic" text-anchor="middle" textLength="40" lengthAdjust="spacingAndGlyphs" transform="rotate(-90 25.2 1076.7)" fill="#000" font-weight="bold">Подп. и дата</text>
<text x="25.2" y="1135.6" font-size="8.3" font-style="italic" text-anchor="middle" textLength="40" lengthAdjust="spacingAndGlyphs" transform="rotate(-90 25.2 1135.6)" fill="#000" font-weight="bold">Инв. № подл.</text>
<line x1="1282.6" y1="1052.5" x2="1410.5" y2="1052.5" stroke="#2273c9" stroke-width="1.25"/>
<line x1="1282.6" y1="1062.5" x2="1410.5" y2="1062.5" stroke="#000" stroke-width="1.15"/>
<line x1="1282.6" y1="1072.5" x2="1410.5" y2="1072.5" stroke="#000" stroke-width="1.15"/>
<line x1="1282.6" y1="1081.5" x2="1410.5" y2="1081.5" stroke="#000" stroke-width="1.15"/>
<line x1="1282.6" y1="1091.5" x2="1410.5" y2="1091.5" stroke="#2273c9" stroke-width="1.25"/>
<line x1="1282.6" y1="1101.5" x2="1410.5" y2="1101.5" stroke="#2273c9" stroke-width="1.25"/>
<line x1="1282.6" y1="1111.5" x2="1410.5" y2="1111.5" stroke="#000" stroke-width="1.15"/>
<line x1="1282.6" y1="1121.5" x2="1410.5" y2="1121.5" stroke="#000" stroke-width="1.15"/>
<line x1="1282.6" y1="1130.5" x2="1410.5" y2="1130.5" stroke="#000" stroke-width="1.15"/>
<line x1="1282.6" y1="1140.5" x2="1410.5" y2="1140.5" stroke="#000" stroke-width="1.15"/>
<line x1="1282.6" y1="1150.5" x2="1410.5" y2="1150.5" stroke="#000" stroke-width="1.15"/>
<line x1="1282.6" y1="1160.5" x2="1410.5" y2="1160.5" stroke="#2273c9" stroke-width="1.25"/>
<line x1="1282.5" y1="1052.6" x2="1282.5" y2="1160.4" stroke="#2273c9" stroke-width="1.25"/>
<line x1="1296.5" y1="1052.6" x2="1296.5" y2="1101.6" stroke="#2273c9" stroke-width="1.25"/>
<line x1="1316.5" y1="1052.6" x2="1316.5" y2="1160.4" stroke="#2273c9" stroke-width="1.25"/>
<line x1="1361.5" y1="1052.6" x2="1361.5" y2="1160.4" stroke="#2273c9" stroke-width="1.25"/>
<line x1="1391.5" y1="1052.6" x2="1391.5" y2="1160.4" stroke="#2273c9" stroke-width="1.25"/>
<line x1="1410.5" y1="1052.6" x2="1410.5" y2="1160.4" stroke="#2273c9" stroke-width="1.25"/>
<line x1="1410.5" y1="1052.5" x2="1647.4" y2="1052.5" stroke="#2273c9" stroke-width="1.25"/>
<line x1="1410.5" y1="1082.5" x2="1647.4" y2="1082.5" stroke="#2273c9" stroke-width="1.25"/>
<line x1="1410.5" y1="1131.5" x2="1647.4" y2="1131.5" stroke="#2273c9" stroke-width="1.25"/>
<line x1="1548.5" y1="1082.5" x2="1548.5" y2="1160.4" stroke="#2273c9" stroke-width="1.25"/>
<line x1="1548.5" y1="1092.5" x2="1647.4" y2="1092.5" stroke="#2273c9" stroke-width="1.25"/>
<line x1="1548.5" y1="1121.5" x2="1647.4" y2="1121.5" stroke="#2273c9" stroke-width="1.25"/>
<line x1="1578.5" y1="1082.5" x2="1578.5" y2="1121.5" stroke="#2273c9" stroke-width="1.25"/>
<line x1="1611.5" y1="1082.5" x2="1611.5" y2="1121.5" stroke="#2273c9" stroke-width="1.25"/>
<line x1="1589.5" y1="1121.5" x2="1589.5" y2="1131.4" stroke="#2273c9" stroke-width="1.25"/>
<line x1="1558.5" y1="1092.3" x2="1558.5" y2="1121.5" stroke="#000" stroke-width="1.3"/>
<line x1="1568.5" y1="1092.3" x2="1568.5" y2="1121.5" stroke="#000" stroke-width="1.3"/>
<text x="1531.6" y="1073.2" font-size="17" font-style="italic" text-anchor="middle" textLength="16" lengthAdjust="spacingAndGlyphs" fill="#000" stroke="#fff" stroke-width="0.2">ТП</text>
<text x="1478.5" y="1094.3" font-size="8.6" font-style="italic" text-anchor="middle" textLength="86" lengthAdjust="spacingAndGlyphs" fill="#000" fill-opacity="0.88">Схема технологического</text>
<text x="1478.5" y="1104.35" font-size="8.6" font-style="italic" text-anchor="middle" textLength="82" lengthAdjust="spacingAndGlyphs" fill="#000" fill-opacity="0.88">процесса изготовления</text>
<text x="1478.5" y="1114.4" font-size="8.6" font-style="italic" text-anchor="middle" textLength="37" lengthAdjust="spacingAndGlyphs" fill="#000" fill-opacity="0.88">детали ось</text>
<text x="1478.5" y="1124.45" font-size="8.6" font-style="italic" text-anchor="middle" textLength="120" lengthAdjust="spacingAndGlyphs" fill="#000" fill-opacity="0.88">Ведомость технического проекта</text>
<text x="1563.5" y="1090.5" font-size="8.6" font-style="italic" text-anchor="middle" textLength="15" lengthAdjust="spacingAndGlyphs" fill="#000" fill-opacity="0.88">Лит.</text>
<text x="1595" y="1090.5" font-size="8.6" font-style="italic" text-anchor="middle" textLength="21" lengthAdjust="spacingAndGlyphs" fill="#000" fill-opacity="0.88">Масса</text>
<text x="1629.5" y="1090.5" font-size="8.6" font-style="italic" text-anchor="middle" textLength="32" lengthAdjust="spacingAndGlyphs" fill="#000" fill-opacity="0.88">Масштаб</text>
<text x="1551.2" y="1129.5" font-size="8.6" font-style="italic" text-anchor="start" textLength="18" lengthAdjust="spacingAndGlyphs" fill="#000" fill-opacity="0.88">Лист</text>
<text x="1592.3" y="1129.5" font-size="8.6" font-style="italic" text-anchor="start" textLength="26" lengthAdjust="spacingAndGlyphs" fill="#000" fill-opacity="0.88">Листов</text>
<text x="1634.5" y="1129.5" font-size="8.6" font-style="italic" text-anchor="start" textLength="4" lengthAdjust="spacingAndGlyphs" fill="#000" fill-opacity="0.88">1</text>
<text x="1289.6" y="1100.2" font-size="8.6" font-style="italic" text-anchor="middle" textLength="12.5" lengthAdjust="spacingAndGlyphs" fill="#000" fill-opacity="0.88">Изм.</text>
<text x="1306.5" y="1100.2" font-size="8.6" font-style="italic" text-anchor="middle" textLength="15.5" lengthAdjust="spacingAndGlyphs" fill="#000" fill-opacity="0.88">Лист</text>
<text x="1338.5" y="1100.2" font-size="8.6" font-style="italic" text-anchor="middle" textLength="31" lengthAdjust="spacingAndGlyphs" fill="#000" fill-opacity="0.88">№ докум.</text>
<text x="1376.3" y="1100.2" font-size="8.6" font-style="italic" text-anchor="middle" textLength="17" lengthAdjust="spacingAndGlyphs" fill="#000" fill-opacity="0.88">Подп.</text>
<text x="1401" y="1100.2" font-size="8.6" font-style="italic" text-anchor="middle" textLength="16" lengthAdjust="spacingAndGlyphs" fill="#000" fill-opacity="0.88">Дата</text>
<text x="1284.1" y="1110" font-size="8.6" font-style="italic" text-anchor="start" textLength="25" lengthAdjust="spacingAndGlyphs" fill="#000" fill-opacity="0.88">Разраб.</text>
<text x="1284.1" y="1119.79" font-size="8.6" font-style="italic" text-anchor="start" textLength="17" lengthAdjust="spacingAndGlyphs" fill="#000" fill-opacity="0.88">Пров.</text>
<text x="1284.1" y="1129.58" font-size="8.6" font-style="italic" text-anchor="start" textLength="28" lengthAdjust="spacingAndGlyphs" fill="#000" fill-opacity="0.88">Т.контр.</text>
<text x="1284.1" y="1149.16" font-size="8.6" font-style="italic" text-anchor="start" textLength="28" lengthAdjust="spacingAndGlyphs" fill="#000" fill-opacity="0.88">Н.контр.</text>
<text x="1284.1" y="1158.95" font-size="8.6" font-style="italic" text-anchor="start" textLength="15" lengthAdjust="spacingAndGlyphs" fill="#000" fill-opacity="0.88">Утв.</text>
<text x="1448" y="1168.3" font-size="8.6" font-style="italic" text-anchor="middle" textLength="35" lengthAdjust="spacingAndGlyphs" fill="#000" fill-opacity="0.88">Копировал</text>
<text x="1569.6" y="1168.3" font-size="8.6" font-style="italic" text-anchor="start" textLength="26" lengthAdjust="spacingAndGlyphs" fill="#000" fill-opacity="0.88">Формат</text>
<text x="1609" y="1168.3" font-size="8.6" font-style="italic" text-anchor="start" textLength="8" lengthAdjust="spacingAndGlyphs" fill="#000" fill-opacity="0.88">А1</text>
</svg></body></html>
